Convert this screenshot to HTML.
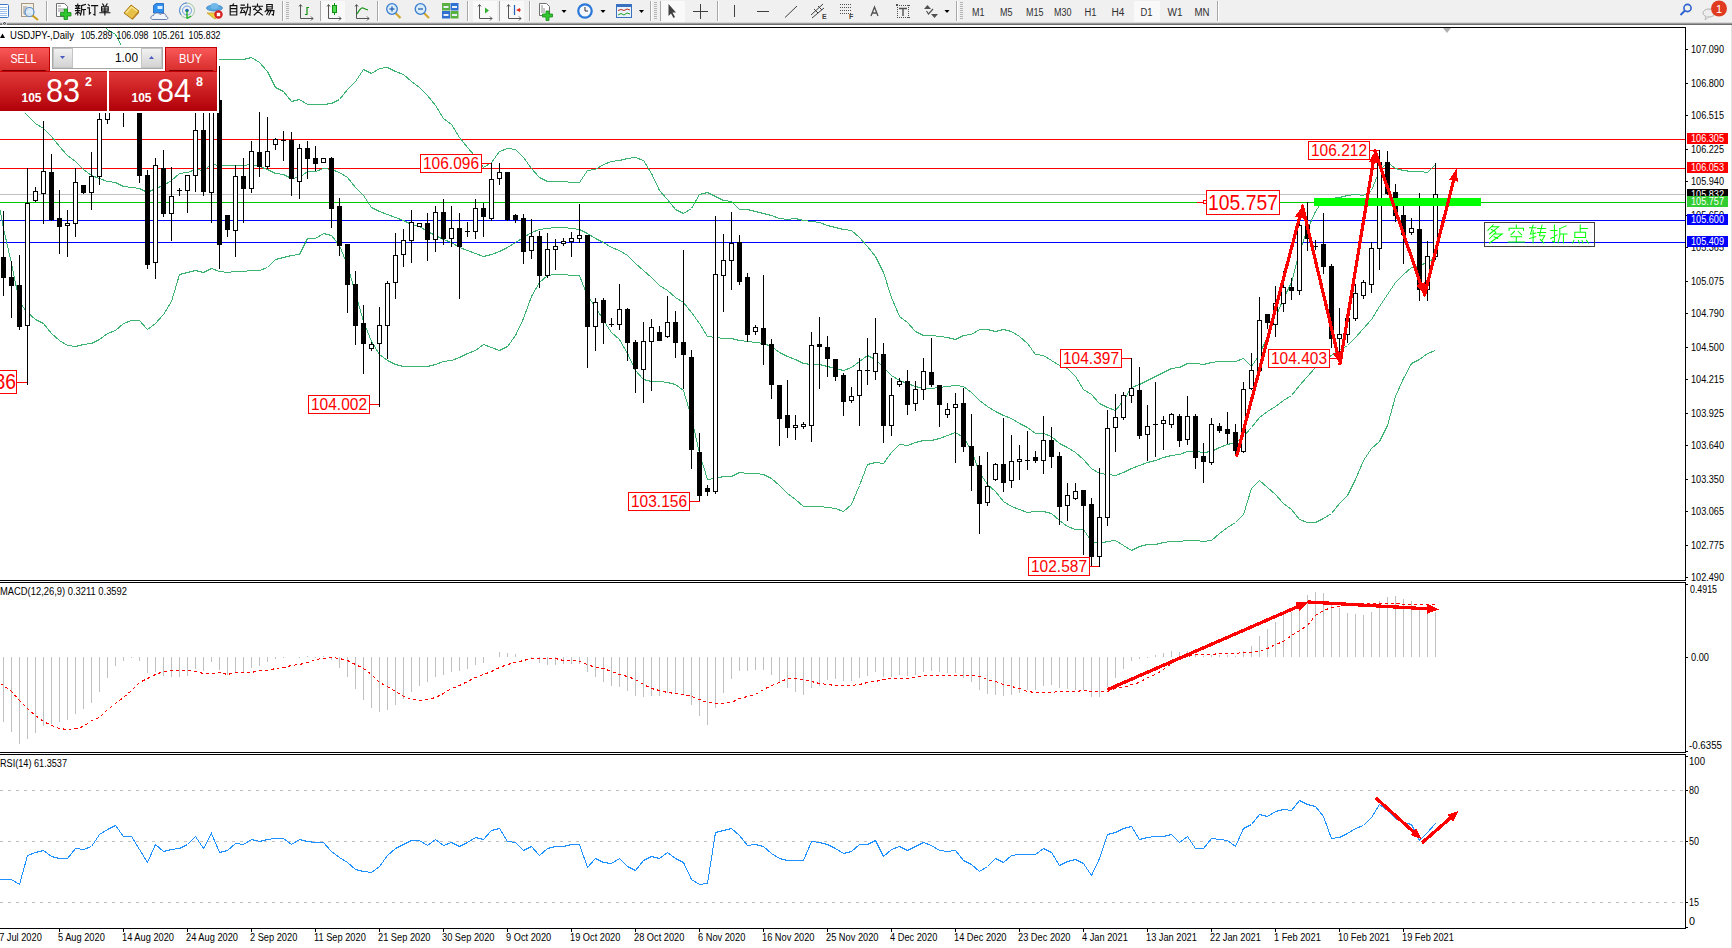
<!DOCTYPE html><html><head><meta charset="utf-8"><style>html,body{margin:0;padding:0;width:1732px;height:948px;overflow:hidden;background:#fff}</style></head><body>
<svg width="1732" height="948" viewBox="0 0 1732 948" style="position:absolute;left:0;top:0">
<rect x="0" y="0" width="1732" height="23" fill="#f0f0f0"/>
<rect x="0" y="22" width="1732" height="1" fill="#d8d8d8"/><rect x="0" y="23" width="1732" height="1" fill="#9a9a9a"/><rect x="0" y="24" width="1732" height="1" fill="#6e6e6e"/>
<path d="M2.5,24.5 L4.5,21.5 L6.5,24.5" fill="none" stroke="#fff" stroke-width="1.6"/><path d="M3,24 L4.5,22 L6,24" fill="none" stroke="#222" stroke-width="0.9"/>
<rect x="46" y="1" width="1" height="20" fill="#a8a8a8" shape-rendering="crispEdges"/><rect x="47" y="1" width="1" height="20" fill="#ffffff" shape-rendering="crispEdges"/>
<rect x="282" y="1" width="1" height="20" fill="#a8a8a8" shape-rendering="crispEdges"/><rect x="283" y="1" width="1" height="20" fill="#ffffff" shape-rendering="crispEdges"/>
<rect x="320" y="1" width="1" height="20" fill="#a8a8a8" shape-rendering="crispEdges"/><rect x="321" y="1" width="1" height="20" fill="#ffffff" shape-rendering="crispEdges"/>
<rect x="377" y="1" width="1" height="20" fill="#a8a8a8" shape-rendering="crispEdges"/><rect x="378" y="1" width="1" height="20" fill="#ffffff" shape-rendering="crispEdges"/>
<rect x="467" y="1" width="1" height="20" fill="#a8a8a8" shape-rendering="crispEdges"/><rect x="468" y="1" width="1" height="20" fill="#ffffff" shape-rendering="crispEdges"/>
<rect x="499" y="1" width="1" height="20" fill="#a8a8a8" shape-rendering="crispEdges"/><rect x="500" y="1" width="1" height="20" fill="#ffffff" shape-rendering="crispEdges"/>
<rect x="529" y="1" width="1" height="20" fill="#a8a8a8" shape-rendering="crispEdges"/><rect x="530" y="1" width="1" height="20" fill="#ffffff" shape-rendering="crispEdges"/>
<rect x="650" y="1" width="1" height="20" fill="#a8a8a8" shape-rendering="crispEdges"/><rect x="651" y="1" width="1" height="20" fill="#ffffff" shape-rendering="crispEdges"/>
<rect x="660" y="1" width="1" height="20" fill="#a8a8a8" shape-rendering="crispEdges"/><rect x="661" y="1" width="1" height="20" fill="#ffffff" shape-rendering="crispEdges"/>
<rect x="717" y="1" width="1" height="20" fill="#a8a8a8" shape-rendering="crispEdges"/><rect x="718" y="1" width="1" height="20" fill="#ffffff" shape-rendering="crispEdges"/>
<rect x="956" y="1" width="1" height="20" fill="#a8a8a8" shape-rendering="crispEdges"/><rect x="957" y="1" width="1" height="20" fill="#ffffff" shape-rendering="crispEdges"/>
<rect x="1217" y="1" width="1" height="20" fill="#a8a8a8" shape-rendering="crispEdges"/><rect x="1218" y="1" width="1" height="20" fill="#ffffff" shape-rendering="crispEdges"/>
<rect x="286" y="2" width="3" height="1" fill="#b4b4b4" shape-rendering="crispEdges"/>
<rect x="286" y="4" width="3" height="1" fill="#b4b4b4" shape-rendering="crispEdges"/>
<rect x="286" y="6" width="3" height="1" fill="#b4b4b4" shape-rendering="crispEdges"/>
<rect x="286" y="8" width="3" height="1" fill="#b4b4b4" shape-rendering="crispEdges"/>
<rect x="286" y="10" width="3" height="1" fill="#b4b4b4" shape-rendering="crispEdges"/>
<rect x="286" y="12" width="3" height="1" fill="#b4b4b4" shape-rendering="crispEdges"/>
<rect x="286" y="14" width="3" height="1" fill="#b4b4b4" shape-rendering="crispEdges"/>
<rect x="286" y="16" width="3" height="1" fill="#b4b4b4" shape-rendering="crispEdges"/>
<rect x="286" y="18" width="3" height="1" fill="#b4b4b4" shape-rendering="crispEdges"/>
<rect x="654" y="2" width="3" height="1" fill="#b4b4b4" shape-rendering="crispEdges"/>
<rect x="654" y="4" width="3" height="1" fill="#b4b4b4" shape-rendering="crispEdges"/>
<rect x="654" y="6" width="3" height="1" fill="#b4b4b4" shape-rendering="crispEdges"/>
<rect x="654" y="8" width="3" height="1" fill="#b4b4b4" shape-rendering="crispEdges"/>
<rect x="654" y="10" width="3" height="1" fill="#b4b4b4" shape-rendering="crispEdges"/>
<rect x="654" y="12" width="3" height="1" fill="#b4b4b4" shape-rendering="crispEdges"/>
<rect x="654" y="14" width="3" height="1" fill="#b4b4b4" shape-rendering="crispEdges"/>
<rect x="654" y="16" width="3" height="1" fill="#b4b4b4" shape-rendering="crispEdges"/>
<rect x="654" y="18" width="3" height="1" fill="#b4b4b4" shape-rendering="crispEdges"/>
<rect x="960" y="2" width="3" height="1" fill="#b4b4b4" shape-rendering="crispEdges"/>
<rect x="960" y="4" width="3" height="1" fill="#b4b4b4" shape-rendering="crispEdges"/>
<rect x="960" y="6" width="3" height="1" fill="#b4b4b4" shape-rendering="crispEdges"/>
<rect x="960" y="8" width="3" height="1" fill="#b4b4b4" shape-rendering="crispEdges"/>
<rect x="960" y="10" width="3" height="1" fill="#b4b4b4" shape-rendering="crispEdges"/>
<rect x="960" y="12" width="3" height="1" fill="#b4b4b4" shape-rendering="crispEdges"/>
<rect x="960" y="14" width="3" height="1" fill="#b4b4b4" shape-rendering="crispEdges"/>
<rect x="960" y="16" width="3" height="1" fill="#b4b4b4" shape-rendering="crispEdges"/>
<rect x="960" y="18" width="3" height="1" fill="#b4b4b4" shape-rendering="crispEdges"/>
<rect x="321" y="1" width="24" height="21" fill="#f9f9f9"/>
<rect x="473" y="1" width="24" height="21" fill="#f9f9f9"/>
<rect x="500" y="1" width="24" height="21" fill="#f9f9f9"/>
<rect x="661" y="1" width="24" height="21" fill="#f9f9f9"/>
<rect x="1134" y="1" width="26" height="21" fill="#f9f9f9"/>
<rect x="-4.5" y="4.5" width="13" height="13" fill="#fff" stroke="#3b78c8" rx="1"/>
<rect x="0" y="7" width="7" height="1" fill="#9cc0ec"/>
<rect x="0" y="9" width="7" height="1" fill="#9cc0ec"/>
<rect x="0" y="11" width="7" height="1" fill="#9cc0ec"/>
<rect x="0" y="13" width="7" height="1" fill="#9cc0ec"/>
<rect x="0" y="15" width="7" height="1" fill="#9cc0ec"/>
<rect x="21.5" y="3.5" width="12" height="13" fill="#f4f0e8" stroke="#a89a80"/>
<path d="M24,6 L24,14 L31,14 M26,6 L26,11 L29,9" fill="none" stroke="#909090" stroke-width="1"/>
<circle cx="29.5" cy="12" r="4.5" fill="#d8ecfa" fill-opacity="0.8" stroke="#5890d0" stroke-width="1.2"/>
<line x1="32.5" y1="15.5" x2="38" y2="20" stroke="#c8a020" stroke-width="2.2"/>
<path d="M56.5,3.5 L64.5,3.5 L67.5,6.5 L67.5,16.5 L56.5,16.5 Z" fill="#fff" stroke="#707070"/>
<path d="M58,6 L61,6 M58,9 L64,9 M58,11 L63,11" stroke="#909090"/>
<path d="M64,9 h3.5 v3.5 h3.5 v3.5 h-3.5 v3.5 h-3.5 v-3.5 h-3.5 v-3.5 h3.5 Z" fill="#2ec82e" stroke="#1a8a1a" stroke-width="0.8"/>
<path transform="translate(75.00,4.00) scale(1.100)" d="M2.5,0 L2.5,1 M0.5,1.5 L4.5,1.5 M1.5,2 L2,3.5 M3.5,2 L3,3.5 M0.5,4 L4.5,4 M0.5,6 L4.5,6 M2.5,4 L2.5,10 M2.5,7 L0.5,9 M2.5,7 L4.5,8.5 M9.5,0.5 L6,1.5 M6,1.5 L6,6 L5,10 M6,5 L9.5,5 M8,5 L8,10" fill="none" stroke="#101010" stroke-width="1.045" stroke-linecap="square" stroke-linejoin="miter"/><path transform="translate(87.20,4.00) scale(1.100)" d="M1,0.5 L2,1.5 M0.5,3.5 L2,3.5 L2,9 L3,8 M4,1.5 L9.5,1.5 M7,1.5 L7,10 L6,9.5" fill="none" stroke="#101010" stroke-width="1.045" stroke-linecap="square" stroke-linejoin="miter"/><path transform="translate(99.40,4.00) scale(1.100)" d="M3,0 L4,1.5 M7,0 L6,1.5 M2,2.5 L8,2.5 L8,6.5 L2,6.5 Z M2,4.5 L8,4.5 M5,2.5 L5,10 M0.5,8 L9.5,8" fill="none" stroke="#101010" stroke-width="1.045" stroke-linecap="square" stroke-linejoin="miter"/>
<path d="M124,13 L131,5 L139,11 L132,19 Z" fill="#e8c048" stroke="#a87818" stroke-width="1"/>
<path d="M126,13 L131.5,7 L137,11" fill="none" stroke="#f8e898" stroke-width="1.2"/>
<path d="M132,19 L139,11 L139,13 L132.5,20 Z" fill="#b88020"/>
<path d="M153.5,5.5 L156,3.5 L163.5,3.5 L163.5,13 L153.5,13 Z" fill="#2e90f0" stroke="#1a62b8" stroke-width="0.8"/>
<rect x="157.5" y="6" width="5" height="3" fill="#d8ecff"/>
<path d="M153,19.5 C150,19.5 150,15.5 153.5,15.5 C154,12.5 159,12 160,14.5 C162,12.5 167,13.5 166,16.5 C168.5,16.5 168.5,19.5 166,19.5 Z" fill="#f2f5fa" stroke="#6a80aa" stroke-width="1"/>
<circle cx="187" cy="10.5" r="7.5" fill="none" stroke="#9ec8a0" stroke-width="1"/>
<path d="M187,3 A7.5,7.5 0 0 0 181,15" fill="none" stroke="#5a8ae0" stroke-width="1"/>
<circle cx="187" cy="10.5" r="4.5" fill="none" stroke="#6aa0e0" stroke-width="1"/>
<circle cx="187" cy="10.5" r="1.8" fill="#2060c0"/>
<line x1="187" y1="10.5" x2="187" y2="18.5" stroke="#20b020" stroke-width="1.4"/><line x1="187" y1="18.5" x2="191" y2="16" stroke="#20b020" stroke-width="1.2"/>
<path d="M207,13 L215,19 L222,13 Z" fill="#f0d040" stroke="#c0a020" stroke-width="0.8"/>
<ellipse cx="214.5" cy="8" rx="8" ry="3" fill="#58a8e0" stroke="#3a80c0" stroke-width="0.8"/>
<ellipse cx="214.5" cy="6" rx="4" ry="3" fill="#70b8ea"/>
<circle cx="218.5" cy="14.5" r="4.2" fill="#d82020"/><rect x="216.8" y="12.8" width="3.4" height="3.4" fill="#fff"/>
<path transform="translate(228.00,4.00) scale(1.100)" d="M5,0 L4,1.5 M2,1.5 L8,1.5 L8,10 L2,10 Z M2,4.2 L8,4.2 M2,7 L8,7" fill="none" stroke="#101010" stroke-width="1.045" stroke-linecap="square" stroke-linejoin="miter"/><path transform="translate(240.00,4.00) scale(1.100)" d="M1,1 L4,1 M0.5,3.5 L4.5,3.5 M2.5,3.5 L0.5,8 L4.5,7.5 M3.5,6 L4.5,8 M5,3 L9.5,3 L9,10 L8,9.5 M7,0 L7,4 L5,10" fill="none" stroke="#101010" stroke-width="1.045" stroke-linecap="square" stroke-linejoin="miter"/><path transform="translate(252.00,4.00) scale(1.100)" d="M5,0 L5,1 M0.5,2 L9.5,2 M3.5,3 L1.5,5 M6.5,3 L8.5,5 M7,5 L2,10 M3,5 L9.5,10" fill="none" stroke="#101010" stroke-width="1.045" stroke-linecap="square" stroke-linejoin="miter"/><path transform="translate(264.00,4.00) scale(1.100)" d="M2.5,0.5 L7.5,0.5 L7.5,4.5 L2.5,4.5 Z M2.5,2.5 L7.5,2.5 M3,5 L1,7 M2,6 L9,6 L8.5,10 L7.5,9.5 M4.5,6 L2.5,9.5 M6.5,6 L4.5,10" fill="none" stroke="#101010" stroke-width="1.045" stroke-linecap="square" stroke-linejoin="miter"/>
<path d="M300.5,5 L300.5,18.5 L313,18.5 M299,6.5 L300.5,4.5 L302,6.5 M311,16.5 L313,18.5 L311,20.5" fill="none" stroke="#555" stroke-width="1"/>
<path d="M305,14.5 L307,14.5 L307,7.5 L309,7.5" fill="none" stroke="#109010" stroke-width="1.2"/>
<path d="M328.5,5 L328.5,18.5 L341,18.5 M327,6.5 L328.5,4.5 L330,6.5 M339,16.5 L341,18.5 L339,20.5" fill="none" stroke="#555" stroke-width="1"/>
<line x1="334.5" y1="3" x2="334.5" y2="15" stroke="#109010"/><rect x="332.5" y="5.5" width="4" height="7" fill="#50d850" stroke="#109010"/>
<path d="M356.5,5 L356.5,18.5 L369,18.5 M355,6.5 L356.5,4.5 L358,6.5 M367,16.5 L369,18.5 L367,20.5" fill="none" stroke="#555" stroke-width="1"/>
<path d="M357,14 Q361,7 363,8 T368,10" fill="none" stroke="#109010" stroke-width="1.1"/>
<line x1="395.5" y1="13" x2="400.5" y2="18" stroke="#d0a830" stroke-width="2.2"/>
<circle cx="392.0" cy="9" r="5.3" fill="#d8ecfa" stroke="#3a7cd0" stroke-width="1.3"/>
<line x1="389.5" y1="9" x2="394.5" y2="9" stroke="#2a60b0" stroke-width="1.3"/>
<line x1="392.0" y1="6.5" x2="392.0" y2="11.5" stroke="#2a60b0" stroke-width="1.3"/>
<line x1="424.0" y1="13" x2="429.0" y2="18" stroke="#d0a830" stroke-width="2.2"/>
<circle cx="420.5" cy="9" r="5.3" fill="#d8ecfa" stroke="#3a7cd0" stroke-width="1.3"/>
<line x1="418.0" y1="9" x2="423.0" y2="9" stroke="#2a60b0" stroke-width="1.3"/>
<rect x="442" y="3" width="8" height="7.5" fill="#58b040"/><rect x="450.5" y="3" width="8" height="7.5" fill="#3070d0"/><rect x="442" y="11" width="8" height="7.5" fill="#3070d0"/><rect x="450.5" y="11" width="8" height="7.5" fill="#58b040"/>
<rect x="443.5" y="6" width="5" height="2" fill="#e8f0f8"/>
<rect x="452.0" y="6" width="5" height="2" fill="#e8f0f8"/>
<rect x="443.5" y="14" width="5" height="2" fill="#e8f0f8"/>
<rect x="452.0" y="14" width="5" height="2" fill="#e8f0f8"/>
<path d="M479.5,5 L479.5,18.5 L492,18.5 M478,6.5 L479.5,4.5 L481,6.5 M490,16.5 L492,18.5 L490,20.5" fill="none" stroke="#555" stroke-width="1"/>
<path d="M485,7.5 L489,10.5 L485,13.5 Z" fill="#30b030"/>
<path d="M508.5,5 L508.5,18.5 L521,18.5 M507,6.5 L508.5,4.5 L510,6.5 M519,16.5 L521,18.5 L519,20.5" fill="none" stroke="#555" stroke-width="1"/>
<line x1="514.5" y1="5" x2="514.5" y2="15" stroke="#2060c0" stroke-width="1.2"/><path d="M516,10 L520,8 L520,12 Z" fill="#e03020"/><line x1="518" y1="10" x2="521" y2="10" stroke="#e03020"/>
<path d="M539.5,3.5 L546.5,3.5 L549.5,6.5 L549.5,15.5 L539.5,15.5 Z" fill="#fff" stroke="#707070"/>
<path d="M542,5 L542,13 M544,8 L544,13" stroke="#909090"/>
<path d="M546,11 h3 v3 h3.5 v3 h-3.5 v3.5 h-3 v-3.5 h-3.5 v-3 h3.5 Z" fill="#2ec82e" stroke="#1a8a1a" stroke-width="0.8"/>
<path d="M561.5,10 L566.5,10 L564.0,13 Z" fill="#000"/>
<path d="M600.5,10 L605.5,10 L603.0,13 Z" fill="#000"/>
<path d="M639.0,10 L644.0,10 L641.5,13 Z" fill="#000"/>
<circle cx="585" cy="11" r="7.8" fill="#2a78d8"/><circle cx="585" cy="11" r="5.6" fill="#f4f8fc"/>
<path d="M585,7 L585,11 L588,11" fill="none" stroke="#333" stroke-width="1"/>
<rect x="616.5" y="4.5" width="15" height="13" fill="#eaf2fb" stroke="#3a70c0"/><rect x="617" y="5" width="14" height="2" fill="#3a70c0"/>
<path d="M618,10.5 L621,9.5 L624,10.5 L627,9 L630,10" fill="none" stroke="#c03020"/><path d="M618,15 L621,13.5 L624,15 L627,13 L630,14" fill="none" stroke="#20a020"/>
<path d="M668.5,4 L668.5,16 L671,13.5 L673.5,18 L675,17 L672.5,12.5 L676,12.5 Z" fill="#404040"/>
<path d="M693,11.5 L708,11.5 M700.5,4 L700.5,19" stroke="#404040" stroke-width="1"/>
<rect x="734" y="5" width="1" height="12" fill="#404040"/><rect x="757" y="11" width="12" height="1" fill="#404040"/>
<line x1="785" y1="17.5" x2="797" y2="6" stroke="#404040" stroke-width="1"/>
<path d="M811,15 L823,4 M812,18 L824,8 M814,9 L818,13 M818,6 L822,10" fill="none" stroke="#404040" stroke-width="1"/>
<text x="822" y="19" font-family="Liberation Sans" font-size="7" font-weight="bold" fill="#404040">E</text>
<line x1="840" y1="4.5" x2="851" y2="4.5" stroke="#505050" stroke-dasharray="1,1"/>
<line x1="840" y1="7.5" x2="851" y2="7.5" stroke="#505050" stroke-dasharray="1,1"/>
<line x1="840" y1="10.5" x2="851" y2="10.5" stroke="#505050" stroke-dasharray="1,1"/>
<line x1="840" y1="13.5" x2="851" y2="13.5" stroke="#505050" stroke-dasharray="1,1"/>
<text x="849" y="19" font-family="Liberation Sans" font-size="7" font-weight="bold" fill="#404040">F</text>
<path d="M871,16 L874.5,7 L878,16 M872.3,13 L876.7,13" fill="none" stroke="#505050" stroke-width="1.3"/>
<rect x="897" y="5" width="1" height="1" fill="#505050"/><rect x="897" y="17" width="1" height="1" fill="#505050"/>
<rect x="899" y="5" width="1" height="1" fill="#505050"/><rect x="899" y="17" width="1" height="1" fill="#505050"/>
<rect x="901" y="5" width="1" height="1" fill="#505050"/><rect x="901" y="17" width="1" height="1" fill="#505050"/>
<rect x="903" y="5" width="1" height="1" fill="#505050"/><rect x="903" y="17" width="1" height="1" fill="#505050"/>
<rect x="905" y="5" width="1" height="1" fill="#505050"/><rect x="905" y="17" width="1" height="1" fill="#505050"/>
<rect x="907" y="5" width="1" height="1" fill="#505050"/><rect x="907" y="17" width="1" height="1" fill="#505050"/>
<rect x="909" y="5" width="1" height="1" fill="#505050"/><rect x="909" y="17" width="1" height="1" fill="#505050"/>
<rect x="897" y="5" width="1" height="1" fill="#505050"/><rect x="908" y="5" width="1" height="1" fill="#505050"/>
<rect x="897" y="7" width="1" height="1" fill="#505050"/><rect x="908" y="7" width="1" height="1" fill="#505050"/>
<rect x="897" y="9" width="1" height="1" fill="#505050"/><rect x="908" y="9" width="1" height="1" fill="#505050"/>
<rect x="897" y="11" width="1" height="1" fill="#505050"/><rect x="908" y="11" width="1" height="1" fill="#505050"/>
<rect x="897" y="13" width="1" height="1" fill="#505050"/><rect x="908" y="13" width="1" height="1" fill="#505050"/>
<rect x="897" y="15" width="1" height="1" fill="#505050"/><rect x="908" y="15" width="1" height="1" fill="#505050"/>
<rect x="897" y="17" width="1" height="1" fill="#505050"/><rect x="908" y="17" width="1" height="1" fill="#505050"/>
<rect x="896" y="4" width="2" height="2" fill="#505050"/>
<path d="M899,8.5 L907,8.5 M903,8.5 L903,16" fill="none" stroke="#505050" stroke-width="1.4"/>
<path d="M924,9 L927.5,5 L931,9 Z" fill="#505050"/><path d="M926.5,11 L928.5,14 L933,9" fill="none" stroke="#505050" stroke-width="1.2"/><path d="M931,14 L938,14 L934.5,18 Z" fill="#505050"/>
<path d="M944.5,10 L949.5,10 L947,13 Z" fill="#000"/>
<g font-family="Liberation Sans" font-size="10" fill="#303030">
<text x="972.0" y="15.5" textLength="12.5" lengthAdjust="spacingAndGlyphs">M1</text>
<text x="1000.0" y="15.5" textLength="12.5" lengthAdjust="spacingAndGlyphs">M5</text>
<text x="1026.0" y="15.5" textLength="17.5" lengthAdjust="spacingAndGlyphs">M15</text>
<text x="1054.0" y="15.5" textLength="17.5" lengthAdjust="spacingAndGlyphs">M30</text>
<text x="1084.5" y="15.5" textLength="12.0" lengthAdjust="spacingAndGlyphs">H1</text>
<text x="1111.5" y="15.5" textLength="13.0" lengthAdjust="spacingAndGlyphs">H4</text>
<text x="1140.5" y="15.5" textLength="12.0" lengthAdjust="spacingAndGlyphs">D1</text>
<text x="1167.5" y="15.5" textLength="15.0" lengthAdjust="spacingAndGlyphs">W1</text>
<text x="1194.5" y="15.5" textLength="15.0" lengthAdjust="spacingAndGlyphs">MN</text>
</g>
<circle cx="1687.5" cy="8" r="3.6" fill="none" stroke="#2e62d0" stroke-width="1.6"/><line x1="1685" y1="10.5" x2="1680.5" y2="15" stroke="#2e62d0" stroke-width="2"/>
<ellipse cx="1709" cy="13" rx="6" ry="4" fill="#eeeeee" stroke="#b0b0b0"/><path d="M1706,16 L1705,20 L1709,16.5" fill="#e8e8e8" stroke="#b0b0b0" stroke-width="0.8"/>
<circle cx="1719" cy="8.5" r="8" fill="#e03a20"/>
<text x="1716" y="13" font-family="Liberation Sans" font-size="11" fill="#fff">1</text>
<g shape-rendering="crispEdges">
<rect x="0" y="27" width="1686" height="1" fill="#000"/>
<rect x="1685" y="27" width="1" height="554" fill="#000"/>
<rect x="0" y="580" width="1686" height="1" fill="#000"/>
<rect x="0" y="582" width="1686" height="1" fill="#000"/>
<rect x="1685" y="582" width="1" height="171" fill="#000"/>
<rect x="0" y="752" width="1686" height="1" fill="#000"/>
<rect x="0" y="754" width="1686" height="1" fill="#000"/>
<rect x="1685" y="754" width="1" height="175" fill="#000"/>
<rect x="0" y="928" width="1686" height="1" fill="#000"/>
<rect x="1731" y="25" width="1" height="923" fill="#e3e3e3"/>
</g>
<g font-family="Liberation Sans" font-size="10" fill="#000">
<rect x="1686" y="49" width="2" height="1" fill="#000" shape-rendering="crispEdges"/>
<text x="1691" y="53" textLength="33" lengthAdjust="spacingAndGlyphs">107.090</text>
<rect x="1686" y="83" width="2" height="1" fill="#000" shape-rendering="crispEdges"/>
<text x="1691" y="87" textLength="33" lengthAdjust="spacingAndGlyphs">106.800</text>
<rect x="1686" y="115" width="2" height="1" fill="#000" shape-rendering="crispEdges"/>
<text x="1691" y="119" textLength="33" lengthAdjust="spacingAndGlyphs">106.515</text>
<rect x="1686" y="149" width="2" height="1" fill="#000" shape-rendering="crispEdges"/>
<text x="1691" y="153" textLength="33" lengthAdjust="spacingAndGlyphs">106.225</text>
<rect x="1686" y="181" width="2" height="1" fill="#000" shape-rendering="crispEdges"/>
<text x="1691" y="185" textLength="33" lengthAdjust="spacingAndGlyphs">105.940</text>
<rect x="1686" y="215" width="2" height="1" fill="#000" shape-rendering="crispEdges"/>
<text x="1691" y="219" textLength="33" lengthAdjust="spacingAndGlyphs">105.650</text>
<rect x="1686" y="247" width="2" height="1" fill="#000" shape-rendering="crispEdges"/>
<text x="1691" y="251" textLength="33" lengthAdjust="spacingAndGlyphs">105.365</text>
<rect x="1686" y="281" width="2" height="1" fill="#000" shape-rendering="crispEdges"/>
<text x="1691" y="285" textLength="33" lengthAdjust="spacingAndGlyphs">105.075</text>
<rect x="1686" y="313" width="2" height="1" fill="#000" shape-rendering="crispEdges"/>
<text x="1691" y="317" textLength="33" lengthAdjust="spacingAndGlyphs">104.790</text>
<rect x="1686" y="347" width="2" height="1" fill="#000" shape-rendering="crispEdges"/>
<text x="1691" y="351" textLength="33" lengthAdjust="spacingAndGlyphs">104.500</text>
<rect x="1686" y="379" width="2" height="1" fill="#000" shape-rendering="crispEdges"/>
<text x="1691" y="383" textLength="33" lengthAdjust="spacingAndGlyphs">104.215</text>
<rect x="1686" y="413" width="2" height="1" fill="#000" shape-rendering="crispEdges"/>
<text x="1691" y="417" textLength="33" lengthAdjust="spacingAndGlyphs">103.925</text>
<rect x="1686" y="445" width="2" height="1" fill="#000" shape-rendering="crispEdges"/>
<text x="1691" y="449" textLength="33" lengthAdjust="spacingAndGlyphs">103.640</text>
<rect x="1686" y="479" width="2" height="1" fill="#000" shape-rendering="crispEdges"/>
<text x="1691" y="483" textLength="33" lengthAdjust="spacingAndGlyphs">103.350</text>
<rect x="1686" y="511" width="2" height="1" fill="#000" shape-rendering="crispEdges"/>
<text x="1691" y="515" textLength="33" lengthAdjust="spacingAndGlyphs">103.065</text>
<rect x="1686" y="545" width="2" height="1" fill="#000" shape-rendering="crispEdges"/>
<text x="1691" y="549" textLength="33" lengthAdjust="spacingAndGlyphs">102.775</text>
<rect x="1686" y="577" width="2" height="1" fill="#000" shape-rendering="crispEdges"/>
<text x="1691" y="581" textLength="33" lengthAdjust="spacingAndGlyphs">102.490</text>
</g>
<g shape-rendering="crispEdges">
<rect x="0" y="139" width="1685" height="1" fill="#ff0000"/>
<rect x="0" y="168" width="1685" height="1" fill="#ff0000"/>
<rect x="0" y="194" width="1685" height="1" fill="#c0c0c0"/>
<rect x="0" y="202" width="1685" height="1" fill="#00c800"/>
<rect x="0" y="220" width="1685" height="1" fill="#0000ff"/>
<rect x="0" y="242" width="1685" height="1" fill="#0000ff"/>
</g>
<defs><clipPath id="cm"><rect x="0" y="28" width="1685" height="552"/></clipPath><clipPath id="cd"><rect x="0" y="583" width="1685" height="169"/></clipPath><clipPath id="cr"><rect x="0" y="755" width="1685" height="173"/></clipPath></defs>
<g fill="none" stroke="#3cb371" stroke-width="1" clip-path="url(#cm)" shape-rendering="crispEdges">
<polyline points="-4.5,-59.5 3.5,-73.5 11.5,-82.5 19.5,-88.5 27.5,-80.5 35.5,-72.5 43.5,-66.5 51.5,-60.5 59.5,-47.5 67.5,-33.5 75.5,-23.5 83.5,-5.5 91.5,7.5 99.5,18.5 107.5,29.5 115.5,34.5 123.5,49.5 131.5,54.5 139.5,55.5 147.5,55.5 155.5,53.5 163.5,56.5 171.5,59.5 179.5,72.5 187.5,72.5 195.5,68.5 203.5,68.5 211.5,61.5 219.5,59.5 227.5,59.5 235.5,59.5 243.5,59.5 251.5,57.5 259.5,62.5 267.5,71.5 275.5,87.5 283.5,91.5 291.5,101.5 299.5,99.5 307.5,104.5 315.5,104.5 323.5,104.5 331.5,103.5 339.5,99.5 347.5,89.5 355.5,81.5 363.5,69.5 371.5,73.5 379.5,68.5 387.5,67.5 395.5,71.5 403.5,74.5 411.5,81.5 419.5,87.5 427.5,95.5 435.5,105.5 443.5,118.5 451.5,124.5 459.5,137.5 467.5,147.5 475.5,156.5 483.5,167.5 491.5,162.5 499.5,151.5 507.5,148.5 515.5,149.5 523.5,157.5 531.5,168.5 539.5,177.5 547.5,181.5 555.5,181.5 563.5,181.5 571.5,182.5 579.5,182.5 587.5,170.5 595.5,169.5 603.5,164.5 611.5,161.5 619.5,160.5 627.5,158.5 635.5,157.5 643.5,160.5 651.5,173.5 659.5,190.5 667.5,199.5 675.5,209.5 683.5,213.5 691.5,208.5 699.5,194.5 707.5,192.5 715.5,196.5 723.5,200.5 731.5,201.5 739.5,209.5 747.5,209.5 755.5,211.5 763.5,213.5 771.5,215.5 779.5,218.5 787.5,219.5 795.5,218.5 803.5,220.5 811.5,221.5 819.5,222.5 827.5,225.5 835.5,227.5 843.5,229.5 851.5,230.5 859.5,237.5 867.5,246.5 875.5,256.5 883.5,272.5 891.5,297.5 899.5,316.5 907.5,322.5 915.5,331.5 923.5,335.5 931.5,335.5 939.5,336.5 947.5,337.5 955.5,339.5 963.5,335.5 971.5,334.5 979.5,329.5 987.5,329.5 995.5,331.5 1003.5,329.5 1011.5,331.5 1019.5,336.5 1027.5,343.5 1035.5,354.5 1043.5,355.5 1051.5,360.5 1059.5,365.5 1067.5,368.5 1075.5,376.5 1083.5,389.5 1091.5,394.5 1099.5,403.5 1107.5,407.5 1115.5,410.5 1123.5,400.5 1131.5,387.5 1139.5,384.5 1147.5,380.5 1155.5,376.5 1163.5,372.5 1171.5,368.5 1179.5,367.5 1187.5,363.5 1195.5,363.5 1203.5,364.5 1211.5,362.5 1219.5,361.5 1227.5,361.5 1235.5,361.5 1243.5,358.5 1251.5,366.5 1259.5,354.5 1267.5,336.5 1275.5,317.5 1283.5,298.5 1291.5,282.5 1299.5,251.5 1307.5,229.5 1315.5,211.5 1323.5,199.5 1331.5,198.5 1339.5,197.5 1347.5,195.5 1355.5,194.5 1363.5,195.5 1371.5,190.5 1379.5,170.5 1387.5,162.5 1395.5,168.5 1403.5,170.5 1411.5,171.5 1419.5,171.5 1427.5,172.5 1435.5,164.5"/>
<polyline points="-4.5,63.5 3.5,77.5 11.5,90.5 19.5,107.5 27.5,115.5 35.5,123.5 43.5,128.5 51.5,136.5 59.5,146.5 67.5,155.5 75.5,161.5 83.5,169.5 91.5,175.5 99.5,178.5 107.5,181.5 115.5,182.5 123.5,186.5 131.5,187.5 139.5,188.5 147.5,192.5 155.5,188.5 163.5,185.5 171.5,180.5 179.5,173.5 187.5,172.5 195.5,169.5 203.5,170.5 211.5,164.5 219.5,165.5 227.5,165.5 235.5,165.5 243.5,165.5 251.5,164.5 259.5,166.5 267.5,169.5 275.5,173.5 283.5,174.5 291.5,178.5 299.5,177.5 307.5,171.5 315.5,171.5 323.5,168.5 331.5,169.5 339.5,172.5 347.5,177.5 355.5,187.5 363.5,195.5 371.5,207.5 379.5,211.5 387.5,214.5 395.5,217.5 403.5,220.5 411.5,224.5 419.5,226.5 427.5,231.5 435.5,235.5 443.5,239.5 451.5,242.5 459.5,247.5 467.5,250.5 475.5,253.5 483.5,256.5 491.5,254.5 499.5,251.5 507.5,247.5 515.5,242.5 523.5,237.5 531.5,232.5 539.5,229.5 547.5,228.5 555.5,227.5 563.5,227.5 571.5,228.5 579.5,229.5 587.5,233.5 595.5,238.5 603.5,242.5 611.5,247.5 619.5,250.5 627.5,255.5 635.5,263.5 643.5,270.5 651.5,277.5 659.5,285.5 667.5,290.5 675.5,297.5 683.5,302.5 691.5,312.5 699.5,323.5 707.5,336.5 715.5,337.5 723.5,338.5 731.5,338.5 739.5,340.5 747.5,341.5 755.5,342.5 763.5,343.5 771.5,346.5 779.5,352.5 787.5,356.5 795.5,359.5 803.5,363.5 811.5,364.5 819.5,364.5 827.5,366.5 835.5,368.5 843.5,370.5 851.5,367.5 859.5,361.5 867.5,355.5 875.5,359.5 883.5,367.5 891.5,375.5 899.5,380.5 907.5,383.5 915.5,386.5 923.5,388.5 931.5,388.5 939.5,387.5 947.5,386.5 955.5,385.5 963.5,386.5 971.5,392.5 979.5,400.5 987.5,406.5 995.5,411.5 1003.5,415.5 1011.5,418.5 1019.5,423.5 1027.5,427.5 1035.5,433.5 1043.5,433.5 1051.5,436.5 1059.5,443.5 1067.5,447.5 1075.5,452.5 1083.5,459.5 1091.5,468.5 1099.5,473.5 1107.5,474.5 1115.5,475.5 1123.5,472.5 1131.5,468.5 1139.5,465.5 1147.5,462.5 1155.5,460.5 1163.5,457.5 1171.5,455.5 1179.5,454.5 1187.5,451.5 1195.5,451.5 1203.5,452.5 1211.5,451.5 1219.5,447.5 1227.5,444.5 1235.5,442.5 1243.5,436.5 1251.5,427.5 1259.5,417.5 1267.5,411.5 1275.5,406.5 1283.5,400.5 1291.5,395.5 1299.5,385.5 1307.5,376.5 1315.5,367.5 1323.5,359.5 1331.5,355.5 1339.5,350.5 1347.5,345.5 1355.5,337.5 1363.5,328.5 1371.5,319.5 1379.5,306.5 1387.5,294.5 1395.5,282.5 1403.5,274.5 1411.5,267.5 1419.5,265.5 1427.5,262.5 1435.5,257.5"/>
<polyline points="-4.5,186.5 3.5,228.5 11.5,263.5 19.5,302.5 27.5,312.5 35.5,319.5 43.5,323.5 51.5,333.5 59.5,340.5 67.5,345.5 75.5,346.5 83.5,344.5 91.5,343.5 99.5,339.5 107.5,333.5 115.5,330.5 123.5,323.5 131.5,320.5 139.5,320.5 147.5,329.5 155.5,323.5 163.5,314.5 171.5,301.5 179.5,274.5 187.5,272.5 195.5,270.5 203.5,272.5 211.5,268.5 219.5,271.5 227.5,272.5 235.5,271.5 243.5,271.5 251.5,270.5 259.5,270.5 267.5,267.5 275.5,259.5 283.5,257.5 291.5,255.5 299.5,254.5 307.5,238.5 315.5,238.5 323.5,233.5 331.5,235.5 339.5,245.5 347.5,265.5 355.5,293.5 363.5,321.5 371.5,341.5 379.5,354.5 387.5,360.5 395.5,364.5 403.5,366.5 411.5,366.5 419.5,366.5 427.5,366.5 435.5,364.5 443.5,361.5 451.5,360.5 459.5,357.5 467.5,353.5 475.5,350.5 483.5,344.5 491.5,347.5 499.5,350.5 507.5,346.5 515.5,335.5 523.5,318.5 531.5,296.5 539.5,282.5 547.5,275.5 555.5,274.5 563.5,274.5 571.5,275.5 579.5,275.5 587.5,296.5 595.5,306.5 603.5,320.5 611.5,332.5 619.5,339.5 627.5,353.5 635.5,370.5 643.5,379.5 651.5,381.5 659.5,381.5 667.5,382.5 675.5,384.5 683.5,390.5 691.5,417.5 699.5,453.5 707.5,479.5 715.5,478.5 723.5,476.5 731.5,476.5 739.5,472.5 747.5,473.5 755.5,473.5 763.5,474.5 771.5,478.5 779.5,485.5 787.5,493.5 795.5,499.5 803.5,506.5 811.5,506.5 819.5,506.5 827.5,507.5 835.5,508.5 843.5,511.5 851.5,504.5 859.5,485.5 867.5,464.5 875.5,462.5 883.5,463.5 891.5,452.5 899.5,444.5 907.5,445.5 915.5,442.5 923.5,440.5 931.5,440.5 939.5,438.5 947.5,435.5 955.5,432.5 963.5,437.5 971.5,450.5 979.5,472.5 987.5,484.5 995.5,491.5 1003.5,501.5 1011.5,506.5 1019.5,509.5 1027.5,512.5 1035.5,511.5 1043.5,511.5 1051.5,513.5 1059.5,520.5 1067.5,526.5 1075.5,529.5 1083.5,529.5 1091.5,541.5 1099.5,543.5 1107.5,541.5 1115.5,540.5 1123.5,545.5 1131.5,550.5 1139.5,546.5 1147.5,544.5 1155.5,544.5 1163.5,542.5 1171.5,541.5 1179.5,541.5 1187.5,540.5 1195.5,540.5 1203.5,541.5 1211.5,540.5 1219.5,533.5 1227.5,527.5 1235.5,522.5 1243.5,514.5 1251.5,488.5 1259.5,480.5 1267.5,487.5 1275.5,494.5 1283.5,503.5 1291.5,509.5 1299.5,519.5 1307.5,522.5 1315.5,522.5 1323.5,518.5 1331.5,513.5 1339.5,503.5 1347.5,495.5 1355.5,479.5 1363.5,460.5 1371.5,448.5 1379.5,441.5 1387.5,425.5 1395.5,396.5 1403.5,378.5 1411.5,363.5 1419.5,359.5 1427.5,353.5 1435.5,350.5"/>
</g>
<g shape-rendering="crispEdges">
<rect x="3" y="211" width="1" height="85" fill="#000"/>
<rect x="1" y="257" width="5" height="21" fill="#000"/>
<rect x="11" y="261" width="1" height="57" fill="#000"/>
<rect x="9" y="277" width="5" height="9" fill="#000"/>
<rect x="19" y="255" width="1" height="75" fill="#000"/>
<rect x="17" y="285" width="5" height="42" fill="#000"/>
<rect x="27" y="168" width="1" height="217" fill="#000"/>
<rect x="25" y="203" width="5" height="123" fill="#000"/>
<rect x="26" y="204" width="3" height="121" fill="#fff"/>
<rect x="35" y="187" width="1" height="15" fill="#000"/>
<rect x="33" y="191" width="5" height="10" fill="#000"/>
<rect x="34" y="192" width="3" height="8" fill="#fff"/>
<rect x="43" y="121" width="1" height="103" fill="#000"/>
<rect x="41" y="171" width="5" height="23" fill="#000"/>
<rect x="42" y="172" width="3" height="21" fill="#fff"/>
<rect x="51" y="154" width="1" height="67" fill="#000"/>
<rect x="49" y="172" width="5" height="48" fill="#000"/>
<rect x="59" y="190" width="1" height="64" fill="#000"/>
<rect x="57" y="218" width="5" height="9" fill="#000"/>
<rect x="67" y="210" width="1" height="47" fill="#000"/>
<rect x="65" y="223" width="5" height="3" fill="#000"/>
<rect x="66" y="224" width="3" height="1" fill="#fff"/>
<rect x="75" y="168" width="1" height="69" fill="#000"/>
<rect x="73" y="182" width="5" height="42" fill="#000"/>
<rect x="74" y="183" width="3" height="40" fill="#fff"/>
<rect x="83" y="185" width="1" height="9" fill="#000"/>
<rect x="81" y="185" width="5" height="8" fill="#000"/>
<rect x="91" y="152" width="1" height="58" fill="#000"/>
<rect x="89" y="176" width="5" height="17" fill="#000"/>
<rect x="90" y="177" width="3" height="15" fill="#fff"/>
<rect x="99" y="100" width="1" height="85" fill="#000"/>
<rect x="97" y="119" width="5" height="58" fill="#000"/>
<rect x="98" y="120" width="3" height="56" fill="#fff"/>
<rect x="107" y="70" width="1" height="54" fill="#000"/>
<rect x="105" y="86" width="5" height="34" fill="#000"/>
<rect x="106" y="87" width="3" height="32" fill="#fff"/>
<rect x="115" y="55" width="1" height="41" fill="#000"/>
<rect x="113" y="62" width="5" height="25" fill="#000"/>
<rect x="114" y="63" width="3" height="23" fill="#fff"/>
<rect x="123" y="58" width="1" height="69" fill="#000"/>
<rect x="121" y="62" width="5" height="50" fill="#000"/>
<rect x="131" y="104" width="1" height="8" fill="#000"/>
<rect x="129" y="106" width="5" height="1" fill="#000"/>
<rect x="139" y="100" width="1" height="83" fill="#000"/>
<rect x="137" y="106" width="5" height="70" fill="#000"/>
<rect x="147" y="170" width="1" height="99" fill="#000"/>
<rect x="145" y="175" width="5" height="90" fill="#000"/>
<rect x="155" y="158" width="1" height="121" fill="#000"/>
<rect x="153" y="165" width="5" height="98" fill="#000"/>
<rect x="154" y="166" width="3" height="96" fill="#fff"/>
<rect x="163" y="150" width="1" height="67" fill="#000"/>
<rect x="161" y="168" width="5" height="46" fill="#000"/>
<rect x="171" y="167" width="1" height="74" fill="#000"/>
<rect x="169" y="196" width="5" height="18" fill="#000"/>
<rect x="170" y="197" width="3" height="16" fill="#fff"/>
<rect x="179" y="188" width="1" height="8" fill="#000"/>
<rect x="177" y="190" width="5" height="1" fill="#000"/>
<rect x="187" y="175" width="1" height="38" fill="#000"/>
<rect x="185" y="175" width="5" height="16" fill="#000"/>
<rect x="186" y="176" width="3" height="14" fill="#fff"/>
<rect x="195" y="100" width="1" height="92" fill="#000"/>
<rect x="193" y="130" width="5" height="46" fill="#000"/>
<rect x="194" y="131" width="3" height="44" fill="#fff"/>
<rect x="203" y="105" width="1" height="91" fill="#000"/>
<rect x="201" y="130" width="5" height="62" fill="#000"/>
<rect x="211" y="95" width="1" height="128" fill="#000"/>
<rect x="209" y="100" width="5" height="93" fill="#000"/>
<rect x="210" y="101" width="3" height="91" fill="#fff"/>
<rect x="219" y="66" width="1" height="203" fill="#000"/>
<rect x="217" y="100" width="5" height="145" fill="#000"/>
<rect x="227" y="215" width="1" height="22" fill="#000"/>
<rect x="225" y="215" width="5" height="15" fill="#000"/>
<rect x="235" y="165" width="1" height="92" fill="#000"/>
<rect x="233" y="176" width="5" height="55" fill="#000"/>
<rect x="234" y="177" width="3" height="53" fill="#fff"/>
<rect x="243" y="158" width="1" height="65" fill="#000"/>
<rect x="241" y="176" width="5" height="13" fill="#000"/>
<rect x="251" y="141" width="1" height="52" fill="#000"/>
<rect x="249" y="151" width="5" height="38" fill="#000"/>
<rect x="250" y="152" width="3" height="36" fill="#fff"/>
<rect x="259" y="112" width="1" height="65" fill="#000"/>
<rect x="257" y="152" width="5" height="15" fill="#000"/>
<rect x="267" y="117" width="1" height="52" fill="#000"/>
<rect x="265" y="151" width="5" height="16" fill="#000"/>
<rect x="266" y="152" width="3" height="14" fill="#fff"/>
<rect x="275" y="138" width="1" height="12" fill="#000"/>
<rect x="273" y="139" width="5" height="6" fill="#000"/>
<rect x="274" y="140" width="3" height="4" fill="#fff"/>
<rect x="283" y="131" width="1" height="30" fill="#000"/>
<rect x="281" y="140" width="5" height="1" fill="#000"/>
<rect x="291" y="132" width="1" height="64" fill="#000"/>
<rect x="289" y="140" width="5" height="39" fill="#000"/>
<rect x="299" y="144" width="1" height="55" fill="#000"/>
<rect x="297" y="148" width="5" height="34" fill="#000"/>
<rect x="298" y="149" width="3" height="32" fill="#fff"/>
<rect x="307" y="141" width="1" height="38" fill="#000"/>
<rect x="305" y="148" width="5" height="11" fill="#000"/>
<rect x="315" y="146" width="1" height="25" fill="#000"/>
<rect x="313" y="158" width="5" height="6" fill="#000"/>
<rect x="323" y="158" width="1" height="5" fill="#000"/>
<rect x="321" y="158" width="5" height="5" fill="#000"/>
<rect x="322" y="159" width="3" height="3" fill="#fff"/>
<rect x="331" y="157" width="1" height="71" fill="#000"/>
<rect x="329" y="158" width="5" height="51" fill="#000"/>
<rect x="339" y="198" width="1" height="58" fill="#000"/>
<rect x="337" y="206" width="5" height="40" fill="#000"/>
<rect x="347" y="244" width="1" height="69" fill="#000"/>
<rect x="345" y="244" width="5" height="41" fill="#000"/>
<rect x="355" y="271" width="1" height="74" fill="#000"/>
<rect x="353" y="284" width="5" height="42" fill="#000"/>
<rect x="363" y="305" width="1" height="69" fill="#000"/>
<rect x="361" y="323" width="5" height="21" fill="#000"/>
<rect x="371" y="342" width="1" height="9" fill="#000"/>
<rect x="369" y="344" width="5" height="5" fill="#000"/>
<rect x="370" y="345" width="3" height="3" fill="#fff"/>
<rect x="379" y="307" width="1" height="100" fill="#000"/>
<rect x="377" y="325" width="5" height="19" fill="#000"/>
<rect x="378" y="326" width="3" height="17" fill="#fff"/>
<rect x="387" y="281" width="1" height="78" fill="#000"/>
<rect x="385" y="283" width="5" height="43" fill="#000"/>
<rect x="386" y="284" width="3" height="41" fill="#fff"/>
<rect x="395" y="233" width="1" height="66" fill="#000"/>
<rect x="393" y="255" width="5" height="28" fill="#000"/>
<rect x="394" y="256" width="3" height="26" fill="#fff"/>
<rect x="403" y="229" width="1" height="38" fill="#000"/>
<rect x="401" y="240" width="5" height="15" fill="#000"/>
<rect x="402" y="241" width="3" height="13" fill="#fff"/>
<rect x="411" y="210" width="1" height="53" fill="#000"/>
<rect x="409" y="222" width="5" height="19" fill="#000"/>
<rect x="410" y="223" width="3" height="17" fill="#fff"/>
<rect x="419" y="223" width="1" height="4" fill="#000"/>
<rect x="417" y="223" width="5" height="4" fill="#000"/>
<rect x="418" y="224" width="3" height="2" fill="#fff"/>
<rect x="427" y="213" width="1" height="48" fill="#000"/>
<rect x="425" y="223" width="5" height="17" fill="#000"/>
<rect x="435" y="206" width="1" height="46" fill="#000"/>
<rect x="433" y="212" width="5" height="28" fill="#000"/>
<rect x="434" y="213" width="3" height="26" fill="#fff"/>
<rect x="443" y="199" width="1" height="46" fill="#000"/>
<rect x="441" y="212" width="5" height="27" fill="#000"/>
<rect x="451" y="206" width="1" height="41" fill="#000"/>
<rect x="449" y="228" width="5" height="11" fill="#000"/>
<rect x="450" y="229" width="3" height="9" fill="#fff"/>
<rect x="459" y="213" width="1" height="86" fill="#000"/>
<rect x="457" y="228" width="5" height="19" fill="#000"/>
<rect x="467" y="222" width="1" height="15" fill="#000"/>
<rect x="465" y="231" width="5" height="1" fill="#000"/>
<rect x="475" y="199" width="1" height="40" fill="#000"/>
<rect x="473" y="208" width="5" height="24" fill="#000"/>
<rect x="474" y="209" width="3" height="22" fill="#fff"/>
<rect x="483" y="203" width="1" height="34" fill="#000"/>
<rect x="481" y="208" width="5" height="9" fill="#000"/>
<rect x="491" y="163" width="1" height="58" fill="#000"/>
<rect x="489" y="179" width="5" height="40" fill="#000"/>
<rect x="490" y="180" width="3" height="38" fill="#fff"/>
<rect x="499" y="163" width="1" height="22" fill="#000"/>
<rect x="497" y="172" width="5" height="7" fill="#000"/>
<rect x="498" y="173" width="3" height="5" fill="#fff"/>
<rect x="507" y="172" width="1" height="49" fill="#000"/>
<rect x="505" y="172" width="5" height="48" fill="#000"/>
<rect x="515" y="214" width="1" height="9" fill="#000"/>
<rect x="513" y="215" width="5" height="5" fill="#000"/>
<rect x="523" y="214" width="1" height="50" fill="#000"/>
<rect x="521" y="218" width="5" height="34" fill="#000"/>
<rect x="531" y="219" width="1" height="40" fill="#000"/>
<rect x="529" y="236" width="5" height="15" fill="#000"/>
<rect x="530" y="237" width="3" height="13" fill="#fff"/>
<rect x="539" y="231" width="1" height="57" fill="#000"/>
<rect x="537" y="236" width="5" height="40" fill="#000"/>
<rect x="547" y="233" width="1" height="45" fill="#000"/>
<rect x="545" y="249" width="5" height="27" fill="#000"/>
<rect x="546" y="250" width="3" height="25" fill="#fff"/>
<rect x="555" y="239" width="1" height="31" fill="#000"/>
<rect x="553" y="246" width="5" height="4" fill="#000"/>
<rect x="554" y="247" width="3" height="2" fill="#fff"/>
<rect x="563" y="238" width="1" height="8" fill="#000"/>
<rect x="561" y="241" width="5" height="3" fill="#000"/>
<rect x="562" y="242" width="3" height="1" fill="#fff"/>
<rect x="571" y="232" width="1" height="25" fill="#000"/>
<rect x="569" y="238" width="5" height="4" fill="#000"/>
<rect x="570" y="239" width="3" height="2" fill="#fff"/>
<rect x="579" y="204" width="1" height="39" fill="#000"/>
<rect x="577" y="235" width="5" height="4" fill="#000"/>
<rect x="578" y="236" width="3" height="2" fill="#fff"/>
<rect x="587" y="235" width="1" height="133" fill="#000"/>
<rect x="585" y="235" width="5" height="92" fill="#000"/>
<rect x="595" y="298" width="1" height="53" fill="#000"/>
<rect x="593" y="302" width="5" height="25" fill="#000"/>
<rect x="594" y="303" width="3" height="23" fill="#fff"/>
<rect x="603" y="298" width="1" height="46" fill="#000"/>
<rect x="601" y="300" width="5" height="23" fill="#000"/>
<rect x="611" y="318" width="1" height="9" fill="#000"/>
<rect x="609" y="324" width="5" height="1" fill="#000"/>
<rect x="619" y="284" width="1" height="46" fill="#000"/>
<rect x="617" y="309" width="5" height="16" fill="#000"/>
<rect x="618" y="310" width="3" height="14" fill="#fff"/>
<rect x="627" y="308" width="1" height="53" fill="#000"/>
<rect x="625" y="309" width="5" height="34" fill="#000"/>
<rect x="635" y="340" width="1" height="53" fill="#000"/>
<rect x="633" y="342" width="5" height="27" fill="#000"/>
<rect x="643" y="322" width="1" height="81" fill="#000"/>
<rect x="641" y="341" width="5" height="29" fill="#000"/>
<rect x="642" y="342" width="3" height="27" fill="#fff"/>
<rect x="651" y="319" width="1" height="72" fill="#000"/>
<rect x="649" y="327" width="5" height="15" fill="#000"/>
<rect x="650" y="328" width="3" height="13" fill="#fff"/>
<rect x="659" y="326" width="1" height="15" fill="#000"/>
<rect x="657" y="332" width="5" height="9" fill="#000"/>
<rect x="667" y="296" width="1" height="42" fill="#000"/>
<rect x="665" y="322" width="5" height="15" fill="#000"/>
<rect x="666" y="323" width="3" height="13" fill="#fff"/>
<rect x="675" y="311" width="1" height="47" fill="#000"/>
<rect x="673" y="322" width="5" height="21" fill="#000"/>
<rect x="683" y="250" width="1" height="139" fill="#000"/>
<rect x="681" y="342" width="5" height="13" fill="#000"/>
<rect x="691" y="350" width="1" height="119" fill="#000"/>
<rect x="689" y="357" width="5" height="93" fill="#000"/>
<rect x="699" y="433" width="1" height="68" fill="#000"/>
<rect x="697" y="452" width="5" height="44" fill="#000"/>
<rect x="707" y="485" width="1" height="11" fill="#000"/>
<rect x="705" y="488" width="5" height="4" fill="#000"/>
<rect x="715" y="216" width="1" height="278" fill="#000"/>
<rect x="713" y="274" width="5" height="218" fill="#000"/>
<rect x="714" y="275" width="3" height="216" fill="#fff"/>
<rect x="723" y="234" width="1" height="78" fill="#000"/>
<rect x="721" y="260" width="5" height="16" fill="#000"/>
<rect x="722" y="261" width="3" height="14" fill="#fff"/>
<rect x="731" y="212" width="1" height="78" fill="#000"/>
<rect x="729" y="243" width="5" height="18" fill="#000"/>
<rect x="730" y="244" width="3" height="16" fill="#fff"/>
<rect x="739" y="235" width="1" height="50" fill="#000"/>
<rect x="737" y="242" width="5" height="40" fill="#000"/>
<rect x="747" y="273" width="1" height="69" fill="#000"/>
<rect x="745" y="277" width="5" height="58" fill="#000"/>
<rect x="755" y="325" width="1" height="10" fill="#000"/>
<rect x="753" y="327" width="5" height="5" fill="#000"/>
<rect x="754" y="328" width="3" height="3" fill="#fff"/>
<rect x="763" y="275" width="1" height="90" fill="#000"/>
<rect x="761" y="328" width="5" height="17" fill="#000"/>
<rect x="771" y="339" width="1" height="60" fill="#000"/>
<rect x="769" y="344" width="5" height="41" fill="#000"/>
<rect x="779" y="385" width="1" height="61" fill="#000"/>
<rect x="777" y="385" width="5" height="34" fill="#000"/>
<rect x="787" y="380" width="1" height="58" fill="#000"/>
<rect x="785" y="415" width="5" height="13" fill="#000"/>
<rect x="795" y="415" width="1" height="25" fill="#000"/>
<rect x="793" y="425" width="5" height="3" fill="#000"/>
<rect x="794" y="426" width="3" height="1" fill="#fff"/>
<rect x="803" y="422" width="1" height="7" fill="#000"/>
<rect x="801" y="424" width="5" height="3" fill="#000"/>
<rect x="802" y="425" width="3" height="1" fill="#fff"/>
<rect x="811" y="332" width="1" height="110" fill="#000"/>
<rect x="809" y="345" width="5" height="81" fill="#000"/>
<rect x="810" y="346" width="3" height="79" fill="#fff"/>
<rect x="819" y="317" width="1" height="72" fill="#000"/>
<rect x="817" y="344" width="5" height="3" fill="#000"/>
<rect x="827" y="336" width="1" height="41" fill="#000"/>
<rect x="825" y="347" width="5" height="12" fill="#000"/>
<rect x="835" y="359" width="1" height="22" fill="#000"/>
<rect x="833" y="359" width="5" height="18" fill="#000"/>
<rect x="843" y="373" width="1" height="43" fill="#000"/>
<rect x="841" y="375" width="5" height="27" fill="#000"/>
<rect x="851" y="387" width="1" height="16" fill="#000"/>
<rect x="849" y="396" width="5" height="5" fill="#000"/>
<rect x="850" y="397" width="3" height="3" fill="#fff"/>
<rect x="859" y="358" width="1" height="68" fill="#000"/>
<rect x="857" y="370" width="5" height="26" fill="#000"/>
<rect x="858" y="371" width="3" height="24" fill="#fff"/>
<rect x="867" y="338" width="1" height="47" fill="#000"/>
<rect x="865" y="370" width="5" height="1" fill="#000"/>
<rect x="875" y="318" width="1" height="62" fill="#000"/>
<rect x="873" y="353" width="5" height="19" fill="#000"/>
<rect x="874" y="354" width="3" height="17" fill="#fff"/>
<rect x="883" y="343" width="1" height="100" fill="#000"/>
<rect x="881" y="354" width="5" height="72" fill="#000"/>
<rect x="891" y="378" width="1" height="58" fill="#000"/>
<rect x="889" y="395" width="5" height="31" fill="#000"/>
<rect x="890" y="396" width="3" height="29" fill="#fff"/>
<rect x="899" y="378" width="1" height="9" fill="#000"/>
<rect x="897" y="381" width="5" height="4" fill="#000"/>
<rect x="898" y="382" width="3" height="2" fill="#fff"/>
<rect x="907" y="370" width="1" height="45" fill="#000"/>
<rect x="905" y="381" width="5" height="24" fill="#000"/>
<rect x="915" y="381" width="1" height="30" fill="#000"/>
<rect x="913" y="389" width="5" height="15" fill="#000"/>
<rect x="914" y="390" width="3" height="13" fill="#fff"/>
<rect x="923" y="358" width="1" height="42" fill="#000"/>
<rect x="921" y="371" width="5" height="19" fill="#000"/>
<rect x="922" y="372" width="3" height="17" fill="#fff"/>
<rect x="931" y="338" width="1" height="49" fill="#000"/>
<rect x="929" y="372" width="5" height="13" fill="#000"/>
<rect x="939" y="385" width="1" height="42" fill="#000"/>
<rect x="937" y="385" width="5" height="20" fill="#000"/>
<rect x="947" y="403" width="1" height="15" fill="#000"/>
<rect x="945" y="409" width="5" height="6" fill="#000"/>
<rect x="946" y="410" width="3" height="4" fill="#fff"/>
<rect x="955" y="393" width="1" height="70" fill="#000"/>
<rect x="953" y="404" width="5" height="4" fill="#000"/>
<rect x="954" y="405" width="3" height="2" fill="#fff"/>
<rect x="963" y="388" width="1" height="64" fill="#000"/>
<rect x="961" y="403" width="5" height="44" fill="#000"/>
<rect x="971" y="414" width="1" height="77" fill="#000"/>
<rect x="969" y="446" width="5" height="20" fill="#000"/>
<rect x="979" y="456" width="1" height="78" fill="#000"/>
<rect x="977" y="465" width="5" height="39" fill="#000"/>
<rect x="987" y="452" width="1" height="54" fill="#000"/>
<rect x="985" y="486" width="5" height="17" fill="#000"/>
<rect x="986" y="487" width="3" height="15" fill="#fff"/>
<rect x="995" y="463" width="1" height="18" fill="#000"/>
<rect x="993" y="464" width="5" height="16" fill="#000"/>
<rect x="994" y="465" width="3" height="14" fill="#fff"/>
<rect x="1003" y="418" width="1" height="74" fill="#000"/>
<rect x="1001" y="464" width="5" height="19" fill="#000"/>
<rect x="1011" y="435" width="1" height="53" fill="#000"/>
<rect x="1009" y="461" width="5" height="20" fill="#000"/>
<rect x="1010" y="462" width="3" height="18" fill="#fff"/>
<rect x="1019" y="445" width="1" height="35" fill="#000"/>
<rect x="1017" y="459" width="5" height="3" fill="#000"/>
<rect x="1018" y="460" width="3" height="1" fill="#fff"/>
<rect x="1027" y="431" width="1" height="39" fill="#000"/>
<rect x="1025" y="460" width="5" height="1" fill="#000"/>
<rect x="1035" y="451" width="1" height="12" fill="#000"/>
<rect x="1033" y="457" width="5" height="4" fill="#000"/>
<rect x="1043" y="416" width="1" height="58" fill="#000"/>
<rect x="1041" y="440" width="5" height="21" fill="#000"/>
<rect x="1042" y="441" width="3" height="19" fill="#fff"/>
<rect x="1051" y="427" width="1" height="41" fill="#000"/>
<rect x="1049" y="440" width="5" height="17" fill="#000"/>
<rect x="1059" y="452" width="1" height="73" fill="#000"/>
<rect x="1057" y="456" width="5" height="51" fill="#000"/>
<rect x="1067" y="483" width="1" height="38" fill="#000"/>
<rect x="1065" y="495" width="5" height="11" fill="#000"/>
<rect x="1066" y="496" width="3" height="9" fill="#fff"/>
<rect x="1075" y="483" width="1" height="17" fill="#000"/>
<rect x="1073" y="491" width="5" height="8" fill="#000"/>
<rect x="1074" y="492" width="3" height="6" fill="#fff"/>
<rect x="1083" y="490" width="1" height="65" fill="#000"/>
<rect x="1081" y="490" width="5" height="16" fill="#000"/>
<rect x="1091" y="498" width="1" height="69" fill="#000"/>
<rect x="1089" y="504" width="5" height="53" fill="#000"/>
<rect x="1099" y="468" width="1" height="99" fill="#000"/>
<rect x="1097" y="517" width="5" height="40" fill="#000"/>
<rect x="1098" y="518" width="3" height="38" fill="#fff"/>
<rect x="1107" y="410" width="1" height="116" fill="#000"/>
<rect x="1105" y="428" width="5" height="90" fill="#000"/>
<rect x="1106" y="429" width="3" height="88" fill="#fff"/>
<rect x="1115" y="394" width="1" height="58" fill="#000"/>
<rect x="1113" y="417" width="5" height="11" fill="#000"/>
<rect x="1114" y="418" width="3" height="9" fill="#fff"/>
<rect x="1123" y="392" width="1" height="28" fill="#000"/>
<rect x="1121" y="395" width="5" height="23" fill="#000"/>
<rect x="1122" y="396" width="3" height="21" fill="#fff"/>
<rect x="1131" y="358" width="1" height="45" fill="#000"/>
<rect x="1129" y="388" width="5" height="8" fill="#000"/>
<rect x="1130" y="389" width="3" height="6" fill="#fff"/>
<rect x="1139" y="367" width="1" height="72" fill="#000"/>
<rect x="1137" y="390" width="5" height="46" fill="#000"/>
<rect x="1147" y="405" width="1" height="56" fill="#000"/>
<rect x="1145" y="426" width="5" height="9" fill="#000"/>
<rect x="1146" y="427" width="3" height="7" fill="#fff"/>
<rect x="1155" y="382" width="1" height="75" fill="#000"/>
<rect x="1153" y="424" width="5" height="1" fill="#000"/>
<rect x="1163" y="416" width="1" height="34" fill="#000"/>
<rect x="1161" y="420" width="5" height="4" fill="#000"/>
<rect x="1162" y="421" width="3" height="2" fill="#fff"/>
<rect x="1171" y="413" width="1" height="15" fill="#000"/>
<rect x="1169" y="414" width="5" height="11" fill="#000"/>
<rect x="1170" y="415" width="3" height="9" fill="#fff"/>
<rect x="1179" y="414" width="1" height="33" fill="#000"/>
<rect x="1177" y="416" width="5" height="25" fill="#000"/>
<rect x="1187" y="396" width="1" height="49" fill="#000"/>
<rect x="1185" y="416" width="5" height="24" fill="#000"/>
<rect x="1186" y="417" width="3" height="22" fill="#fff"/>
<rect x="1195" y="414" width="1" height="55" fill="#000"/>
<rect x="1193" y="416" width="5" height="42" fill="#000"/>
<rect x="1203" y="443" width="1" height="40" fill="#000"/>
<rect x="1201" y="456" width="5" height="6" fill="#000"/>
<rect x="1211" y="418" width="1" height="47" fill="#000"/>
<rect x="1209" y="424" width="5" height="39" fill="#000"/>
<rect x="1210" y="425" width="3" height="37" fill="#fff"/>
<rect x="1219" y="423" width="1" height="10" fill="#000"/>
<rect x="1217" y="426" width="5" height="5" fill="#000"/>
<rect x="1227" y="412" width="1" height="32" fill="#000"/>
<rect x="1225" y="429" width="5" height="5" fill="#000"/>
<rect x="1235" y="424" width="1" height="31" fill="#000"/>
<rect x="1233" y="432" width="5" height="19" fill="#000"/>
<rect x="1243" y="382" width="1" height="71" fill="#000"/>
<rect x="1241" y="389" width="5" height="63" fill="#000"/>
<rect x="1242" y="390" width="3" height="61" fill="#fff"/>
<rect x="1251" y="353" width="1" height="37" fill="#000"/>
<rect x="1249" y="370" width="5" height="19" fill="#000"/>
<rect x="1250" y="371" width="3" height="17" fill="#fff"/>
<rect x="1259" y="297" width="1" height="75" fill="#000"/>
<rect x="1257" y="320" width="5" height="51" fill="#000"/>
<rect x="1258" y="321" width="3" height="49" fill="#fff"/>
<rect x="1267" y="314" width="1" height="15" fill="#000"/>
<rect x="1265" y="314" width="5" height="9" fill="#000"/>
<rect x="1275" y="286" width="1" height="51" fill="#000"/>
<rect x="1273" y="303" width="5" height="22" fill="#000"/>
<rect x="1274" y="304" width="3" height="20" fill="#fff"/>
<rect x="1283" y="271" width="1" height="41" fill="#000"/>
<rect x="1281" y="287" width="5" height="17" fill="#000"/>
<rect x="1282" y="288" width="3" height="15" fill="#fff"/>
<rect x="1291" y="278" width="1" height="22" fill="#000"/>
<rect x="1289" y="287" width="5" height="4" fill="#000"/>
<rect x="1299" y="222" width="1" height="73" fill="#000"/>
<rect x="1297" y="225" width="5" height="66" fill="#000"/>
<rect x="1298" y="226" width="3" height="64" fill="#fff"/>
<rect x="1307" y="202" width="1" height="49" fill="#000"/>
<rect x="1305" y="225" width="5" height="14" fill="#000"/>
<rect x="1315" y="240" width="1" height="10" fill="#000"/>
<rect x="1313" y="246" width="5" height="1" fill="#000"/>
<rect x="1323" y="213" width="1" height="61" fill="#000"/>
<rect x="1321" y="244" width="5" height="23" fill="#000"/>
<rect x="1331" y="264" width="1" height="84" fill="#000"/>
<rect x="1329" y="266" width="5" height="73" fill="#000"/>
<rect x="1339" y="308" width="1" height="51" fill="#000"/>
<rect x="1337" y="334" width="5" height="5" fill="#000"/>
<rect x="1338" y="335" width="3" height="3" fill="#fff"/>
<rect x="1347" y="317" width="1" height="26" fill="#000"/>
<rect x="1345" y="318" width="5" height="17" fill="#000"/>
<rect x="1346" y="319" width="3" height="15" fill="#fff"/>
<rect x="1355" y="284" width="1" height="37" fill="#000"/>
<rect x="1353" y="293" width="5" height="26" fill="#000"/>
<rect x="1354" y="294" width="3" height="24" fill="#fff"/>
<rect x="1363" y="280" width="1" height="19" fill="#000"/>
<rect x="1361" y="282" width="5" height="14" fill="#000"/>
<rect x="1362" y="283" width="3" height="12" fill="#fff"/>
<rect x="1371" y="242" width="1" height="51" fill="#000"/>
<rect x="1369" y="248" width="5" height="37" fill="#000"/>
<rect x="1370" y="249" width="3" height="35" fill="#fff"/>
<rect x="1379" y="150" width="1" height="120" fill="#000"/>
<rect x="1377" y="162" width="5" height="87" fill="#000"/>
<rect x="1378" y="163" width="3" height="85" fill="#fff"/>
<rect x="1387" y="151" width="1" height="44" fill="#000"/>
<rect x="1385" y="162" width="5" height="32" fill="#000"/>
<rect x="1395" y="184" width="1" height="38" fill="#000"/>
<rect x="1393" y="192" width="5" height="24" fill="#000"/>
<rect x="1403" y="206" width="1" height="58" fill="#000"/>
<rect x="1401" y="215" width="5" height="20" fill="#000"/>
<rect x="1411" y="218" width="1" height="17" fill="#000"/>
<rect x="1409" y="228" width="5" height="5" fill="#000"/>
<rect x="1410" y="229" width="3" height="3" fill="#fff"/>
<rect x="1419" y="193" width="1" height="108" fill="#000"/>
<rect x="1417" y="229" width="5" height="61" fill="#000"/>
<rect x="1427" y="241" width="1" height="60" fill="#000"/>
<rect x="1425" y="256" width="5" height="34" fill="#000"/>
<rect x="1426" y="257" width="3" height="32" fill="#fff"/>
<rect x="1435" y="163" width="1" height="97" fill="#000"/>
<rect x="1433" y="194" width="5" height="63" fill="#000"/>
<rect x="1434" y="195" width="3" height="61" fill="#fff"/>
</g>
<g shape-rendering="crispEdges" fill="#c0c0c0">
<rect x="3" y="657" width="1" height="65"/>
<rect x="11" y="657" width="1" height="75"/>
<rect x="19" y="657" width="1" height="87"/>
<rect x="27" y="657" width="1" height="82"/>
<rect x="35" y="657" width="1" height="76"/>
<rect x="43" y="657" width="1" height="69"/>
<rect x="51" y="657" width="1" height="67"/>
<rect x="59" y="657" width="1" height="65"/>
<rect x="67" y="657" width="1" height="63"/>
<rect x="75" y="657" width="1" height="57"/>
<rect x="83" y="657" width="1" height="52"/>
<rect x="91" y="657" width="1" height="46"/>
<rect x="99" y="657" width="1" height="35"/>
<rect x="107" y="657" width="1" height="21"/>
<rect x="115" y="657" width="1" height="9"/>
<rect x="123" y="657" width="1" height="4"/>
<rect x="131" y="657" width="1" height="1"/>
<rect x="139" y="657" width="1" height="4"/>
<rect x="147" y="657" width="1" height="16"/>
<rect x="155" y="657" width="1" height="15"/>
<rect x="163" y="657" width="1" height="19"/>
<rect x="171" y="657" width="1" height="20"/>
<rect x="179" y="657" width="1" height="20"/>
<rect x="187" y="657" width="1" height="19"/>
<rect x="195" y="657" width="1" height="12"/>
<rect x="203" y="657" width="1" height="14"/>
<rect x="211" y="657" width="1" height="5"/>
<rect x="219" y="657" width="1" height="13"/>
<rect x="227" y="657" width="1" height="18"/>
<rect x="235" y="657" width="1" height="15"/>
<rect x="243" y="657" width="1" height="15"/>
<rect x="251" y="657" width="1" height="11"/>
<rect x="259" y="657" width="1" height="9"/>
<rect x="267" y="657" width="1" height="5"/>
<rect x="275" y="657" width="1" height="2"/>
<rect x="283" y="657" width="1" height="1"/>
<rect x="299" y="657" width="1" height="1"/>
<rect x="307" y="656" width="1" height="1"/>
<rect x="315" y="657" width="1" height="1"/>
<rect x="323" y="656" width="1" height="1"/>
<rect x="331" y="657" width="1" height="3"/>
<rect x="339" y="657" width="1" height="11"/>
<rect x="347" y="657" width="1" height="20"/>
<rect x="355" y="657" width="1" height="32"/>
<rect x="363" y="657" width="1" height="43"/>
<rect x="371" y="657" width="1" height="51"/>
<rect x="379" y="657" width="1" height="55"/>
<rect x="387" y="657" width="1" height="53"/>
<rect x="395" y="657" width="1" height="48"/>
<rect x="403" y="657" width="1" height="42"/>
<rect x="411" y="657" width="1" height="35"/>
<rect x="419" y="657" width="1" height="29"/>
<rect x="427" y="657" width="1" height="25"/>
<rect x="435" y="657" width="1" height="20"/>
<rect x="443" y="657" width="1" height="18"/>
<rect x="451" y="657" width="1" height="15"/>
<rect x="459" y="657" width="1" height="14"/>
<rect x="467" y="657" width="1" height="12"/>
<rect x="475" y="657" width="1" height="8"/>
<rect x="483" y="657" width="1" height="6"/>
<rect x="499" y="652" width="1" height="5"/>
<rect x="507" y="653" width="1" height="4"/>
<rect x="515" y="654" width="1" height="3"/>
<rect x="531" y="657" width="1" height="1"/>
<rect x="539" y="657" width="1" height="6"/>
<rect x="547" y="657" width="1" height="8"/>
<rect x="555" y="657" width="1" height="8"/>
<rect x="563" y="657" width="1" height="7"/>
<rect x="571" y="657" width="1" height="7"/>
<rect x="579" y="657" width="1" height="7"/>
<rect x="587" y="657" width="1" height="15"/>
<rect x="595" y="657" width="1" height="20"/>
<rect x="603" y="657" width="1" height="25"/>
<rect x="611" y="657" width="1" height="29"/>
<rect x="619" y="657" width="1" height="30"/>
<rect x="627" y="657" width="1" height="34"/>
<rect x="635" y="657" width="1" height="39"/>
<rect x="643" y="657" width="1" height="40"/>
<rect x="651" y="657" width="1" height="39"/>
<rect x="659" y="657" width="1" height="39"/>
<rect x="667" y="657" width="1" height="36"/>
<rect x="675" y="657" width="1" height="36"/>
<rect x="683" y="657" width="1" height="38"/>
<rect x="691" y="657" width="1" height="48"/>
<rect x="699" y="657" width="1" height="59"/>
<rect x="707" y="657" width="1" height="68"/>
<rect x="715" y="657" width="1" height="51"/>
<rect x="723" y="657" width="1" height="36"/>
<rect x="731" y="657" width="1" height="22"/>
<rect x="739" y="657" width="1" height="14"/>
<rect x="747" y="657" width="1" height="14"/>
<rect x="755" y="657" width="1" height="13"/>
<rect x="763" y="657" width="1" height="13"/>
<rect x="771" y="657" width="1" height="18"/>
<rect x="779" y="657" width="1" height="25"/>
<rect x="787" y="657" width="1" height="31"/>
<rect x="795" y="657" width="1" height="35"/>
<rect x="803" y="657" width="1" height="38"/>
<rect x="811" y="657" width="1" height="31"/>
<rect x="819" y="657" width="1" height="29"/>
<rect x="827" y="657" width="1" height="23"/>
<rect x="835" y="657" width="1" height="22"/>
<rect x="843" y="657" width="1" height="24"/>
<rect x="851" y="657" width="1" height="24"/>
<rect x="859" y="657" width="1" height="21"/>
<rect x="867" y="657" width="1" height="19"/>
<rect x="875" y="657" width="1" height="15"/>
<rect x="883" y="657" width="1" height="20"/>
<rect x="891" y="657" width="1" height="20"/>
<rect x="899" y="657" width="1" height="18"/>
<rect x="907" y="657" width="1" height="19"/>
<rect x="915" y="657" width="1" height="18"/>
<rect x="923" y="657" width="1" height="15"/>
<rect x="931" y="657" width="1" height="14"/>
<rect x="939" y="657" width="1" height="15"/>
<rect x="947" y="657" width="1" height="16"/>
<rect x="955" y="657" width="1" height="16"/>
<rect x="963" y="657" width="1" height="21"/>
<rect x="971" y="657" width="1" height="25"/>
<rect x="979" y="657" width="1" height="33"/>
<rect x="987" y="657" width="1" height="37"/>
<rect x="995" y="657" width="1" height="38"/>
<rect x="1003" y="657" width="1" height="39"/>
<rect x="1011" y="657" width="1" height="38"/>
<rect x="1019" y="657" width="1" height="36"/>
<rect x="1027" y="657" width="1" height="33"/>
<rect x="1035" y="657" width="1" height="33"/>
<rect x="1043" y="657" width="1" height="29"/>
<rect x="1051" y="657" width="1" height="28"/>
<rect x="1059" y="657" width="1" height="31"/>
<rect x="1067" y="657" width="1" height="32"/>
<rect x="1075" y="657" width="1" height="33"/>
<rect x="1083" y="657" width="1" height="33"/>
<rect x="1091" y="657" width="1" height="40"/>
<rect x="1099" y="657" width="1" height="40"/>
<rect x="1107" y="657" width="1" height="30"/>
<rect x="1115" y="657" width="1" height="21"/>
<rect x="1123" y="657" width="1" height="12"/>
<rect x="1131" y="657" width="1" height="4"/>
<rect x="1139" y="657" width="1" height="2"/>
<rect x="1147" y="657" width="1" height="1"/>
<rect x="1155" y="655" width="1" height="2"/>
<rect x="1163" y="653" width="1" height="4"/>
<rect x="1171" y="651" width="1" height="6"/>
<rect x="1179" y="652" width="1" height="5"/>
<rect x="1187" y="651" width="1" height="6"/>
<rect x="1195" y="655" width="1" height="2"/>
<rect x="1203" y="656" width="1" height="1"/>
<rect x="1211" y="655" width="1" height="2"/>
<rect x="1219" y="655" width="1" height="2"/>
<rect x="1227" y="655" width="1" height="2"/>
<rect x="1235" y="656" width="1" height="1"/>
<rect x="1243" y="651" width="1" height="6"/>
<rect x="1251" y="646" width="1" height="11"/>
<rect x="1259" y="636" width="1" height="21"/>
<rect x="1267" y="629" width="1" height="28"/>
<rect x="1275" y="622" width="1" height="35"/>
<rect x="1283" y="615" width="1" height="42"/>
<rect x="1291" y="612" width="1" height="45"/>
<rect x="1299" y="603" width="1" height="54"/>
<rect x="1307" y="595" width="1" height="62"/>
<rect x="1315" y="592" width="1" height="65"/>
<rect x="1323" y="593" width="1" height="64"/>
<rect x="1331" y="602" width="1" height="55"/>
<rect x="1339" y="608" width="1" height="49"/>
<rect x="1347" y="613" width="1" height="44"/>
<rect x="1355" y="614" width="1" height="43"/>
<rect x="1363" y="615" width="1" height="42"/>
<rect x="1371" y="612" width="1" height="45"/>
<rect x="1379" y="601" width="1" height="56"/>
<rect x="1387" y="597" width="1" height="60"/>
<rect x="1395" y="596" width="1" height="61"/>
<rect x="1403" y="599" width="1" height="58"/>
<rect x="1411" y="601" width="1" height="56"/>
<rect x="1419" y="609" width="1" height="48"/>
<rect x="1427" y="610" width="1" height="47"/>
<rect x="1435" y="612" width="1" height="45"/>
</g>
<polyline points="-4.5,680.5 3.5,685.5 11.5,691.5 19.5,700.5 27.5,708.5 35.5,715.5 43.5,721.5 51.5,725.5 59.5,728.5 67.5,729.5 75.5,728.5 83.5,726.5 91.5,720.5 99.5,717.5 107.5,709.5 115.5,703.5 123.5,697.5 131.5,690.5 139.5,682.5 147.5,678.5 155.5,674.5 163.5,671.5 171.5,670.5 179.5,670.5 187.5,670.5 195.5,671.5 203.5,673.5 211.5,673.5 219.5,672.5 227.5,674.5 235.5,672.5 243.5,672.5 251.5,672.5 259.5,670.5 267.5,670.5 275.5,668.5 283.5,667.5 291.5,665.5 299.5,664.5 307.5,662.5 315.5,659.5 323.5,658.5 331.5,657.5 339.5,658.5 347.5,660.5 355.5,664.5 363.5,668.5 371.5,674.5 379.5,682.5 387.5,686.5 395.5,691.5 403.5,696.5 411.5,699.5 419.5,700.5 427.5,699.5 435.5,697.5 443.5,693.5 451.5,688.5 459.5,685.5 467.5,681.5 475.5,677.5 483.5,674.5 491.5,671.5 499.5,667.5 507.5,664.5 515.5,662.5 523.5,660.5 531.5,658.5 539.5,658.5 547.5,658.5 555.5,658.5 563.5,660.5 571.5,660.5 579.5,661.5 587.5,664.5 595.5,667.5 603.5,668.5 611.5,671.5 619.5,674.5 627.5,676.5 635.5,679.5 643.5,684.5 651.5,688.5 659.5,690.5 667.5,692.5 675.5,693.5 683.5,694.5 691.5,696.5 699.5,699.5 707.5,702.5 715.5,703.5 723.5,703.5 731.5,702.5 739.5,698.5 747.5,696.5 755.5,694.5 763.5,689.5 771.5,685.5 779.5,682.5 787.5,678.5 795.5,678.5 803.5,679.5 811.5,681.5 819.5,683.5 827.5,684.5 835.5,685.5 843.5,685.5 851.5,685.5 859.5,684.5 867.5,682.5 875.5,681.5 883.5,679.5 891.5,678.5 899.5,678.5 907.5,678.5 915.5,677.5 923.5,675.5 931.5,675.5 939.5,675.5 947.5,675.5 955.5,675.5 963.5,675.5 971.5,675.5 979.5,676.5 987.5,679.5 995.5,681.5 1003.5,684.5 1011.5,686.5 1019.5,688.5 1027.5,691.5 1035.5,692.5 1043.5,692.5 1051.5,692.5 1059.5,691.5 1067.5,691.5 1075.5,691.5 1083.5,690.5 1091.5,691.5 1099.5,691.5 1107.5,691.5 1115.5,688.5 1123.5,687.5 1131.5,684.5 1139.5,682.5 1147.5,677.5 1155.5,674.5 1163.5,669.5 1171.5,663.5 1179.5,658.5 1187.5,656.5 1195.5,654.5 1203.5,654.5 1211.5,654.5 1219.5,653.5 1227.5,653.5 1235.5,653.5 1243.5,652.5 1251.5,652.5 1259.5,651.5 1267.5,648.5 1275.5,644.5 1283.5,641.5 1291.5,635.5 1299.5,630.5 1307.5,625.5 1315.5,615.5 1323.5,610.5 1331.5,607.5 1339.5,606.5 1347.5,604.5 1355.5,604.5 1363.5,603.5 1371.5,603.5 1379.5,603.5 1387.5,603.5 1395.5,603.5 1403.5,604.5 1411.5,604.5 1419.5,604.5 1427.5,604.5 1435.5,604.5" fill="none" stroke="#ff0000" stroke-width="1" stroke-dasharray="3,3" shape-rendering="crispEdges"/>
<g shape-rendering="crispEdges">
<line x1="0" y1="790.5" x2="1685" y2="790.5" stroke="#c0c0c0" stroke-dasharray="3,5"/>
<line x1="0" y1="841.5" x2="1685" y2="841.5" stroke="#c0c0c0" stroke-dasharray="3,5"/>
<line x1="0" y1="902.5" x2="1685" y2="902.5" stroke="#c0c0c0" stroke-dasharray="3,5"/>
</g>
<polyline points="-4.5,879.5 3.5,879.5 11.5,879.5 19.5,884.5 27.5,855.5 35.5,852.5 43.5,850.5 51.5,856.5 59.5,858.5 67.5,858.5 75.5,848.5 83.5,849.5 91.5,846.5 99.5,834.5 107.5,829.5 115.5,825.5 123.5,836.5 131.5,836.5 139.5,849.5 147.5,862.5 155.5,844.5 163.5,851.5 171.5,849.5 179.5,848.5 187.5,844.5 195.5,836.5 203.5,848.5 211.5,833.5 219.5,852.5 227.5,850.5 235.5,843.5 243.5,844.5 251.5,839.5 259.5,841.5 267.5,839.5 275.5,838.5 283.5,838.5 291.5,844.5 299.5,839.5 307.5,841.5 315.5,842.5 323.5,842.5 331.5,851.5 339.5,857.5 347.5,862.5 355.5,869.5 363.5,871.5 371.5,872.5 379.5,866.5 387.5,855.5 395.5,848.5 403.5,844.5 411.5,840.5 419.5,840.5 427.5,845.5 435.5,839.5 443.5,845.5 451.5,842.5 459.5,846.5 467.5,842.5 475.5,837.5 483.5,839.5 491.5,830.5 499.5,828.5 507.5,841.5 515.5,842.5 523.5,850.5 531.5,846.5 539.5,855.5 547.5,848.5 555.5,846.5 563.5,846.5 571.5,844.5 579.5,844.5 587.5,867.5 595.5,858.5 603.5,862.5 611.5,863.5 619.5,858.5 627.5,866.5 635.5,870.5 643.5,860.5 651.5,856.5 659.5,858.5 667.5,852.5 675.5,858.5 683.5,862.5 691.5,879.5 699.5,884.5 707.5,883.5 715.5,832.5 723.5,830.5 731.5,828.5 739.5,835.5 747.5,845.5 755.5,844.5 763.5,846.5 771.5,853.5 779.5,858.5 787.5,860.5 795.5,860.5 803.5,860.5 811.5,841.5 819.5,842.5 827.5,844.5 835.5,848.5 843.5,853.5 851.5,851.5 859.5,844.5 867.5,844.5 875.5,840.5 883.5,856.5 891.5,849.5 899.5,846.5 907.5,850.5 915.5,846.5 923.5,842.5 931.5,845.5 939.5,850.5 947.5,851.5 955.5,850.5 963.5,860.5 971.5,864.5 979.5,871.5 987.5,866.5 995.5,858.5 1003.5,862.5 1011.5,855.5 1019.5,854.5 1027.5,854.5 1035.5,854.5 1043.5,848.5 1051.5,852.5 1059.5,865.5 1067.5,861.5 1075.5,859.5 1083.5,863.5 1091.5,875.5 1099.5,858.5 1107.5,834.5 1115.5,832.5 1123.5,828.5 1131.5,826.5 1139.5,839.5 1147.5,837.5 1155.5,836.5 1163.5,836.5 1171.5,834.5 1179.5,842.5 1187.5,836.5 1195.5,848.5 1203.5,848.5 1211.5,838.5 1219.5,839.5 1227.5,840.5 1235.5,846.5 1243.5,828.5 1251.5,824.5 1259.5,814.5 1267.5,816.5 1275.5,811.5 1283.5,809.5 1291.5,810.5 1299.5,800.5 1307.5,804.5 1315.5,806.5 1323.5,816.5 1331.5,838.5 1339.5,837.5 1347.5,833.5 1355.5,828.5 1363.5,825.5 1371.5,817.5 1379.5,804.5 1387.5,810.5 1395.5,818.5 1403.5,822.5 1411.5,824.5 1419.5,840.5 1427.5,832.5 1435.5,823.5" fill="none" stroke="#1e90ff" stroke-width="1" shape-rendering="crispEdges"/>
<g font-family="Liberation Sans" font-size="10" fill="#000">
<rect x="1686" y="584" width="2" height="1" fill="#000" shape-rendering="crispEdges"/>
<rect x="1686" y="657" width="2" height="1" fill="#000" shape-rendering="crispEdges"/>
<rect x="1686" y="751" width="2" height="1" fill="#000" shape-rendering="crispEdges"/>
<rect x="1686" y="756" width="2" height="1" fill="#000" shape-rendering="crispEdges"/>
<rect x="1686" y="790" width="2" height="1" fill="#000" shape-rendering="crispEdges"/>
<rect x="1686" y="841" width="2" height="1" fill="#000" shape-rendering="crispEdges"/>
<rect x="1686" y="902" width="2" height="1" fill="#000" shape-rendering="crispEdges"/>
<rect x="1686" y="927" width="2" height="1" fill="#000" shape-rendering="crispEdges"/>
<text x="1690" y="593" textLength="27" lengthAdjust="spacingAndGlyphs">0.4915</text>
<text x="1691" y="661" textLength="18" lengthAdjust="spacingAndGlyphs">0.00</text>
<text x="1689" y="749" textLength="33" lengthAdjust="spacingAndGlyphs">-0.6355</text>
<text x="1689" y="765" textLength="16" lengthAdjust="spacingAndGlyphs">100</text>
<text x="1689" y="794" textLength="10" lengthAdjust="spacingAndGlyphs">80</text>
<text x="1689" y="845" textLength="10" lengthAdjust="spacingAndGlyphs">50</text>
<text x="1689" y="906" textLength="10" lengthAdjust="spacingAndGlyphs">15</text>
<text x="1689" y="925" textLength="6" lengthAdjust="spacingAndGlyphs">0</text>
<text x="0" y="595" textLength="127" lengthAdjust="spacingAndGlyphs">MACD(12,26,9) 0.3211 0.3592</text>
<text x="0" y="767" textLength="67" lengthAdjust="spacingAndGlyphs">RSI(14) 61.3537</text>
</g>
<g font-family="Liberation Sans" font-size="10" fill="#000">
<rect x="-5" y="929" width="1" height="3" fill="#000" shape-rendering="crispEdges"/>
<text x="-6" y="941" textLength="47.8" lengthAdjust="spacingAndGlyphs">27 Jul 2020</text>
<rect x="59" y="929" width="1" height="3" fill="#000" shape-rendering="crispEdges"/>
<text x="58" y="941" textLength="46.8" lengthAdjust="spacingAndGlyphs">5 Aug 2020</text>
<rect x="123" y="929" width="1" height="3" fill="#000" shape-rendering="crispEdges"/>
<text x="122" y="941" textLength="52.0" lengthAdjust="spacingAndGlyphs">14 Aug 2020</text>
<rect x="187" y="929" width="1" height="3" fill="#000" shape-rendering="crispEdges"/>
<text x="186" y="941" textLength="52.0" lengthAdjust="spacingAndGlyphs">24 Aug 2020</text>
<rect x="251" y="929" width="1" height="3" fill="#000" shape-rendering="crispEdges"/>
<text x="250" y="941" textLength="47.3" lengthAdjust="spacingAndGlyphs">2 Sep 2020</text>
<rect x="315" y="929" width="1" height="3" fill="#000" shape-rendering="crispEdges"/>
<text x="314" y="941" textLength="51.8" lengthAdjust="spacingAndGlyphs">11 Sep 2020</text>
<rect x="379" y="929" width="1" height="3" fill="#000" shape-rendering="crispEdges"/>
<text x="378" y="941" textLength="52.5" lengthAdjust="spacingAndGlyphs">21 Sep 2020</text>
<rect x="443" y="929" width="1" height="3" fill="#000" shape-rendering="crispEdges"/>
<text x="442" y="941" textLength="52.5" lengthAdjust="spacingAndGlyphs">30 Sep 2020</text>
<rect x="507" y="929" width="1" height="3" fill="#000" shape-rendering="crispEdges"/>
<text x="506" y="941" textLength="45.2" lengthAdjust="spacingAndGlyphs">9 Oct 2020</text>
<rect x="571" y="929" width="1" height="3" fill="#000" shape-rendering="crispEdges"/>
<text x="570" y="941" textLength="50.4" lengthAdjust="spacingAndGlyphs">19 Oct 2020</text>
<rect x="635" y="929" width="1" height="3" fill="#000" shape-rendering="crispEdges"/>
<text x="634" y="941" textLength="50.4" lengthAdjust="spacingAndGlyphs">28 Oct 2020</text>
<rect x="699" y="929" width="1" height="3" fill="#000" shape-rendering="crispEdges"/>
<text x="698" y="941" textLength="47.3" lengthAdjust="spacingAndGlyphs">6 Nov 2020</text>
<rect x="763" y="929" width="1" height="3" fill="#000" shape-rendering="crispEdges"/>
<text x="762" y="941" textLength="52.5" lengthAdjust="spacingAndGlyphs">16 Nov 2020</text>
<rect x="827" y="929" width="1" height="3" fill="#000" shape-rendering="crispEdges"/>
<text x="826" y="941" textLength="52.5" lengthAdjust="spacingAndGlyphs">25 Nov 2020</text>
<rect x="891" y="929" width="1" height="3" fill="#000" shape-rendering="crispEdges"/>
<text x="890" y="941" textLength="47.3" lengthAdjust="spacingAndGlyphs">4 Dec 2020</text>
<rect x="955" y="929" width="1" height="3" fill="#000" shape-rendering="crispEdges"/>
<text x="954" y="941" textLength="52.5" lengthAdjust="spacingAndGlyphs">14 Dec 2020</text>
<rect x="1019" y="929" width="1" height="3" fill="#000" shape-rendering="crispEdges"/>
<text x="1018" y="941" textLength="52.5" lengthAdjust="spacingAndGlyphs">23 Dec 2020</text>
<rect x="1083" y="929" width="1" height="3" fill="#000" shape-rendering="crispEdges"/>
<text x="1082" y="941" textLength="45.8" lengthAdjust="spacingAndGlyphs">4 Jan 2021</text>
<rect x="1147" y="929" width="1" height="3" fill="#000" shape-rendering="crispEdges"/>
<text x="1146" y="941" textLength="50.9" lengthAdjust="spacingAndGlyphs">13 Jan 2021</text>
<rect x="1211" y="929" width="1" height="3" fill="#000" shape-rendering="crispEdges"/>
<text x="1210" y="941" textLength="50.9" lengthAdjust="spacingAndGlyphs">22 Jan 2021</text>
<rect x="1275" y="929" width="1" height="3" fill="#000" shape-rendering="crispEdges"/>
<text x="1274" y="941" textLength="46.8" lengthAdjust="spacingAndGlyphs">1 Feb 2021</text>
<rect x="1339" y="929" width="1" height="3" fill="#000" shape-rendering="crispEdges"/>
<text x="1338" y="941" textLength="51.9" lengthAdjust="spacingAndGlyphs">10 Feb 2021</text>
<rect x="1403" y="929" width="1" height="3" fill="#000" shape-rendering="crispEdges"/>
<text x="1402" y="941" textLength="51.9" lengthAdjust="spacingAndGlyphs">19 Feb 2021</text>
</g>
<g font-family="Liberation Sans" font-size="10" fill="#000">
<path d="M0,38 L2.5,33.5 L5,38 Z" fill="#000"/>
<text x="10" y="39" textLength="64" lengthAdjust="spacingAndGlyphs">USDJPY-,Daily</text>
<text x="80.5" y="39" textLength="32" lengthAdjust="spacingAndGlyphs">105.289</text>
<text x="116.5" y="39" textLength="32" lengthAdjust="spacingAndGlyphs">106.098</text>
<text x="152.5" y="39" textLength="32" lengthAdjust="spacingAndGlyphs">105.261</text>
<text x="188.5" y="39" textLength="32" lengthAdjust="spacingAndGlyphs">105.832</text>
</g>
<path d="M1443,28 L1451,28 L1447,33 Z" fill="#b0b0b0"/>
<rect x="1314" y="198" width="167" height="8" fill="#00ff00" shape-rendering="crispEdges"/>
<g font-family="Liberation Sans" fill="#ff0000">
<rect x="-56.5" y="370.5" width="73" height="23" fill="#fff" stroke="#ff0000" stroke-width="1" shape-rendering="crispEdges"/>
<rect x="17" y="382" width="10" height="1" fill="#ff0000" shape-rendering="crispEdges"/>
<text x="-54" y="389" font-size="22" textLength="70" lengthAdjust="spacingAndGlyphs">104.186</text>
<rect x="308.5" y="395.5" width="61" height="18" fill="#fff" stroke="#ff0000" stroke-width="1" shape-rendering="crispEdges"/>
<rect x="370" y="404" width="9" height="1" fill="#ff0000" shape-rendering="crispEdges"/>
<text x="311" y="410" font-size="16" textLength="56" lengthAdjust="spacingAndGlyphs">104.002</text>
<rect x="420.5" y="154.5" width="61" height="18" fill="#fff" stroke="#ff0000" stroke-width="1" shape-rendering="crispEdges"/>
<rect x="482" y="163" width="9" height="1" fill="#ff0000" shape-rendering="crispEdges"/>
<text x="423" y="169" font-size="16" textLength="56" lengthAdjust="spacingAndGlyphs">106.096</text>
<rect x="628.5" y="492.5" width="61" height="18" fill="#fff" stroke="#ff0000" stroke-width="1" shape-rendering="crispEdges"/>
<rect x="690" y="501" width="10" height="1" fill="#ff0000" shape-rendering="crispEdges"/>
<text x="631" y="507" font-size="16" textLength="56" lengthAdjust="spacingAndGlyphs">103.156</text>
<rect x="1028.5" y="557.5" width="61" height="18" fill="#fff" stroke="#ff0000" stroke-width="1" shape-rendering="crispEdges"/>
<rect x="1090" y="566" width="9" height="1" fill="#ff0000" shape-rendering="crispEdges"/>
<text x="1031" y="572" font-size="16" textLength="56" lengthAdjust="spacingAndGlyphs">102.587</text>
<rect x="1060.5" y="349.5" width="61" height="18" fill="#fff" stroke="#ff0000" stroke-width="1" shape-rendering="crispEdges"/>
<rect x="1122" y="358" width="9" height="1" fill="#ff0000" shape-rendering="crispEdges"/>
<text x="1063" y="364" font-size="16" textLength="56" lengthAdjust="spacingAndGlyphs">104.397</text>
<rect x="1268.5" y="349.5" width="61" height="18" fill="#fff" stroke="#ff0000" stroke-width="1" shape-rendering="crispEdges"/>
<rect x="1330" y="358" width="9" height="1" fill="#ff0000" shape-rendering="crispEdges"/>
<text x="1271" y="364" font-size="16" textLength="56" lengthAdjust="spacingAndGlyphs">104.403</text>
<rect x="1308.5" y="141.5" width="61" height="18" fill="#fff" stroke="#ff0000" stroke-width="1" shape-rendering="crispEdges"/>
<rect x="1370" y="150" width="9" height="1" fill="#ff0000" shape-rendering="crispEdges"/>
<text x="1311" y="156" font-size="16" textLength="56" lengthAdjust="spacingAndGlyphs">106.212</text>
<rect x="1206.5" y="190.5" width="73" height="24" fill="#fff" stroke="#ff0000" stroke-width="1" shape-rendering="crispEdges"/>
<text x="1208" y="210" font-size="22" textLength="70" lengthAdjust="spacingAndGlyphs">105.757</text>
</g>
<rect x="1203.5" y="200.5" width="3" height="3" fill="#fff" stroke="#ff0000" shape-rendering="crispEdges"/>
<rect x="1197" y="202" width="6" height="1" fill="#ff0000" shape-rendering="crispEdges"/>
<path transform="translate(1486.00,225.00) scale(1.800)" d="M4,0 L1,3 M3,1 L7,1 L2,5 M3,2.5 L5,3.5 M5.5,4 L2,7.5 M4.5,5 L9,5 L2,10 M4.5,6.5 L6.5,7.5" fill="none" stroke="#00ff00" stroke-width="0.556" stroke-linecap="square" stroke-linejoin="miter"/><path transform="translate(1507.30,225.00) scale(1.800)" d="M5,0 L5,1.2 M1,3 L1,1.8 L9,1.8 L9,3 M4,3.5 L2,5.5 M6,3.5 L8,5.5 M2,6.5 L8,6.5 M5,6.5 L5,9.5 M0.5,9.5 L9.5,9.5" fill="none" stroke="#00ff00" stroke-width="0.556" stroke-linecap="square" stroke-linejoin="miter"/><path transform="translate(1528.60,225.00) scale(1.800)" d="M0.5,1.5 L4,1.5 M2.5,0 L1,5 L4,4.5 M2.5,3 L2.5,10 M0.5,7.5 L4,6.5 M5,2 L9.5,2 M5,4.2 L9.5,4.2 M7.5,0 L6,6 L9,6 L7.5,8.5 M6.5,8 L8.5,10" fill="none" stroke="#00ff00" stroke-width="0.556" stroke-linecap="square" stroke-linejoin="miter"/><path transform="translate(1549.90,225.00) scale(1.800)" d="M0.5,3 L4,3 M2.5,0 L2.5,9.5 L1.5,9 M0.5,7.5 L4,5.5 M9,0.5 L5.5,2 M5.5,2 L5.5,6 L4.5,10 M5.5,5 L9.5,5 M7.5,5 L7.5,10" fill="none" stroke="#00ff00" stroke-width="0.556" stroke-linecap="square" stroke-linejoin="miter"/><path transform="translate(1571.20,225.00) scale(1.800)" d="M5,0 L5,4 M5,2 L9,2 M2,4 L8,4 L8,7 L2,7 Z M1.5,8.5 L0.8,10 M4,8.5 L4.5,10 M6,8.5 L6.5,10 M8.5,8.5 L9.5,10" fill="none" stroke="#00ff00" stroke-width="0.556" stroke-linecap="square" stroke-linejoin="miter"/>
<rect x="1484.5" y="222.5" width="110" height="24" fill="none" stroke="#404040" stroke-width="1" shape-rendering="crispEdges"/>
<g shape-rendering="crispEdges">
<line x1="1237.0" y1="455.0" x2="1300.0" y2="215.7" stroke="#ff0000" stroke-width="3.2" stroke-linecap="round"/><path d="M1302.5,206.0 L1303.8,218.7 L1295.1,216.5 Z" fill="#ff0000"/><line x1="1302.5" y1="206.0" x2="1337.7" y2="354.3" stroke="#ff0000" stroke-width="3.2" stroke-linecap="round"/><path d="M1340.0,364.0 L1332.9,353.4 L1341.6,351.3 Z" fill="#ff0000"/><line x1="1340.0" y1="364.0" x2="1373.4" y2="160.9" stroke="#ff0000" stroke-width="3.2" stroke-linecap="round"/><path d="M1375.0,151.0 L1377.5,163.6 L1368.6,162.1 Z" fill="#ff0000"/><line x1="1375.0" y1="151.0" x2="1421.2" y2="285.5" stroke="#ff0000" stroke-width="3.2" stroke-linecap="round"/><path d="M1424.5,295.0 L1416.3,285.1 L1424.9,282.2 Z" fill="#ff0000"/><line x1="1424.5" y1="295.0" x2="1454.0" y2="178.7" stroke="#ff0000" stroke-width="3.2" stroke-linecap="round"/><path d="M1456.5,169.0 L1457.9,181.7 L1449.2,179.5 Z" fill="#ff0000"/>
<line x1="1109.0" y1="689.0" x2="1299.3" y2="606.0" stroke="#ff0000" stroke-width="3.3" stroke-linecap="round"/><path d="M1308.5,602.0 L1299.5,611.4 L1295.5,602.2 Z" fill="#ff0000"/>
<line x1="1308.5" y1="602.0" x2="1429.0" y2="608.9" stroke="#ff0000" stroke-width="3.3" stroke-linecap="round"/><path d="M1439.0,609.5 L1426.7,613.8 L1427.3,603.8 Z" fill="#ff0000"/>
<line x1="1377.0" y1="799.0" x2="1414.8" y2="833.0" stroke="#ff0000" stroke-width="3.3" stroke-linecap="round"/><path d="M1421.5,839.0 L1410.3,835.0 L1416.3,828.3 Z" fill="#ff0000"/>
<line x1="1423.0" y1="842.0" x2="1451.7" y2="816.9" stroke="#ff0000" stroke-width="3.3" stroke-linecap="round"/><path d="M1458.5,811.0 L1453.2,821.6 L1447.3,814.8 Z" fill="#ff0000"/>
</g>
<g font-family="Liberation Sans" font-size="10" shape-rendering="crispEdges">
<rect x="1687" y="133" width="41" height="11" fill="#ff0000"/>
<text x="1691" y="142" fill="#fff" textLength="33" lengthAdjust="spacingAndGlyphs" shape-rendering="auto">106.305</text>
<rect x="1687" y="162" width="41" height="11" fill="#ff0000"/>
<text x="1691" y="171" fill="#fff" textLength="33" lengthAdjust="spacingAndGlyphs" shape-rendering="auto">106.053</text>
<rect x="1687" y="189" width="41" height="11" fill="#000"/>
<text x="1691" y="198" fill="#fff" textLength="33" lengthAdjust="spacingAndGlyphs" shape-rendering="auto">105.832</text>
<rect x="1687" y="196" width="41" height="11" fill="#32cd32"/>
<text x="1691" y="205" fill="#fff" textLength="33" lengthAdjust="spacingAndGlyphs" shape-rendering="auto">105.757</text>
<rect x="1687" y="214" width="41" height="11" fill="#0000ff"/>
<text x="1691" y="223" fill="#fff" textLength="33" lengthAdjust="spacingAndGlyphs" shape-rendering="auto">105.600</text>
<rect x="1687" y="236" width="41" height="11" fill="#0000ff"/>
<text x="1691" y="245" fill="#fff" textLength="33" lengthAdjust="spacingAndGlyphs" shape-rendering="auto">105.409</text>
</g>
<defs><linearGradient id="gb" x1="0" y1="0" x2="0" y2="1"><stop offset="0" stop-color="#fa5a5a"/><stop offset="1" stop-color="#d82c2c"/></linearGradient><linearGradient id="gl" x1="0" y1="0" x2="0" y2="1"><stop offset="0" stop-color="#e43a3a"/><stop offset="1" stop-color="#b00008"/></linearGradient><linearGradient id="gbtn" x1="0" y1="0" x2="0" y2="1"><stop offset="0" stop-color="#f2f2f2"/><stop offset="1" stop-color="#d2d2d2"/></linearGradient></defs>
<rect x="0" y="45" width="219" height="68" fill="#fff"/>
<rect x="0" y="47" width="50" height="24" fill="url(#gb)"/>
<rect x="0" y="47" width="50" height="1" fill="#c00000"/><rect x="49" y="47" width="1" height="24" fill="#c00000"/>
<rect x="2" y="70" width="44" height="1" fill="#7a0000"/>
<rect x="165" y="47" width="52" height="24" fill="url(#gb)"/>
<rect x="165" y="47" width="52" height="1" fill="#c00000"/><rect x="165" y="47" width="1" height="24" fill="#c00000"/><rect x="216" y="47" width="1" height="24" fill="#c00000"/>
<rect x="169" y="70" width="44" height="1" fill="#7a0000"/>
<rect x="0" y="71" width="107" height="40" fill="url(#gl)"/>
<rect x="109" y="71" width="108" height="40" fill="url(#gl)"/>
<rect x="0" y="71" width="107" height="1" fill="#c40000"/><rect x="109" y="71" width="108" height="1" fill="#c40000"/>
<rect x="52.5" y="47.5" width="110" height="21" fill="#fff" stroke="#a8a8a8"/>
<rect x="53.5" y="48.5" width="19" height="19" fill="url(#gbtn)" stroke="#c4c4c4"/>
<rect x="141.5" y="48.5" width="20" height="19" fill="url(#gbtn)" stroke="#c4c4c4"/>
<path d="M60,56 L65,56 L62.5,59 Z" fill="#4a5cc0"/><path d="M149,59 L154,59 L151.5,56 Z" fill="#4a5cc0"/>
<g font-family="Liberation Sans" fill="#fff">
<text x="10.5" y="63" font-size="12" textLength="26" lengthAdjust="spacingAndGlyphs">SELL</text>
<text x="179" y="63" font-size="12" textLength="23" lengthAdjust="spacingAndGlyphs">BUY</text>
<text x="21.5" y="102" font-size="12" font-weight="bold" textLength="20" lengthAdjust="spacingAndGlyphs">105</text>
<text x="46" y="102" font-size="33" textLength="34" lengthAdjust="spacingAndGlyphs">83</text>
<text x="85" y="86" font-size="12" font-weight="bold" textLength="7" lengthAdjust="spacingAndGlyphs">2</text>
<text x="131.5" y="102" font-size="12" font-weight="bold" textLength="20" lengthAdjust="spacingAndGlyphs">105</text>
<text x="157" y="102" font-size="33" textLength="34" lengthAdjust="spacingAndGlyphs">84</text>
<text x="196" y="86" font-size="12" font-weight="bold" textLength="7" lengthAdjust="spacingAndGlyphs">8</text>
</g>
<text x="115" y="62" font-family="Liberation Sans" font-size="12" fill="#000" textLength="23" lengthAdjust="spacingAndGlyphs">1.00</text>
</svg></body></html>
